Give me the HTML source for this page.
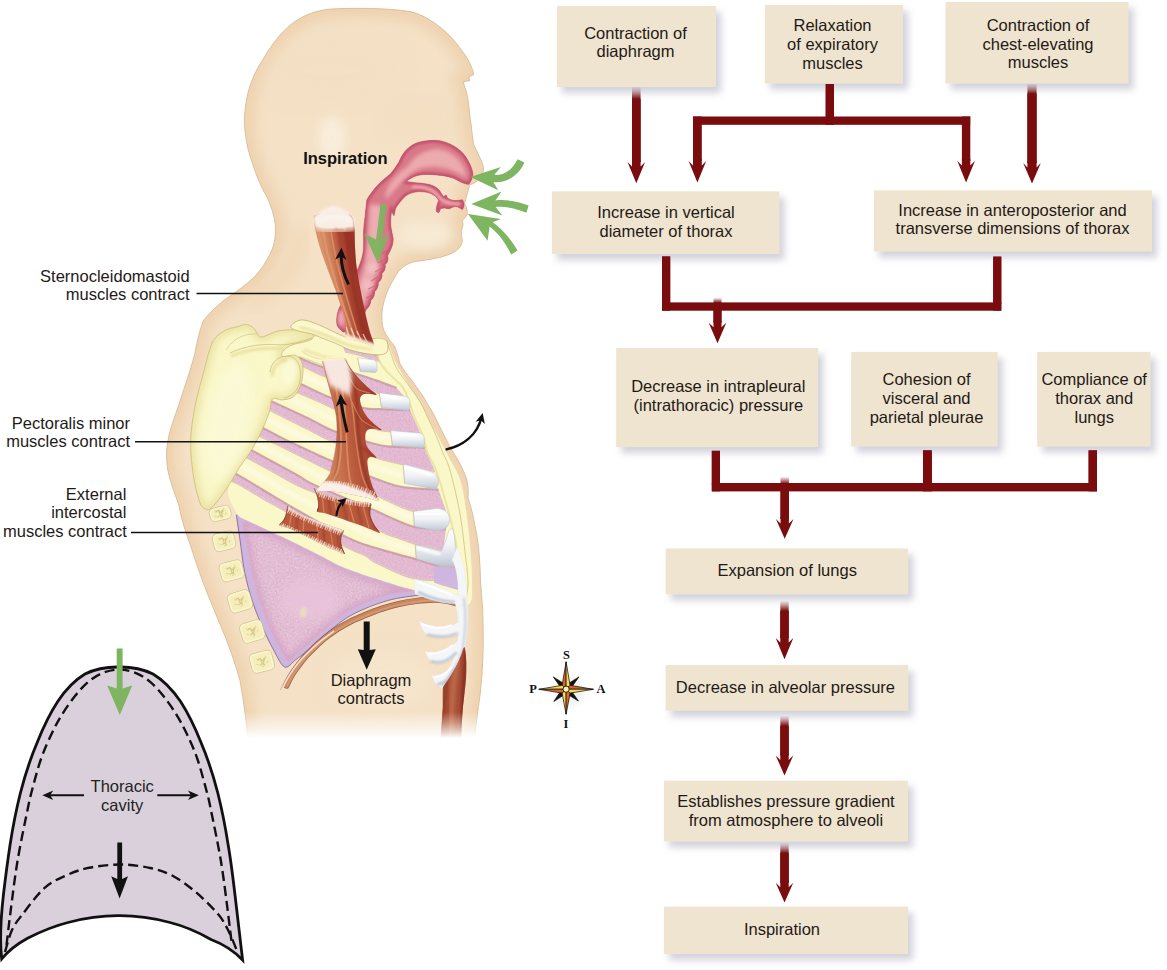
<!DOCTYPE html>
<html><head><meta charset="utf-8"><title>Inspiration</title>
<style>
html,body{margin:0;padding:0;background:#fff;}
body{width:1167px;height:970px;overflow:hidden;font-family:"Liberation Sans",sans-serif;}
svg{display:block;}
text{font-family:"Liberation Sans",sans-serif;}
.ft text{font-size:16.5px;fill:#1f1a17;text-anchor:middle;}
.serif text{font-family:"Liberation Serif",serif;}
</style></head><body>
<svg width="1167" height="970" viewBox="0 0 1167 970">
<defs>
<filter id="sh" x="-10%" y="-20%" width="125%" height="150%">
<feGaussianBlur in="SourceAlpha" stdDeviation="3.6"/>
<feOffset dx="4.5" dy="5.5" result="b"/>
<feFlood flood-color="#9c9cb2" flood-opacity="0.46"/>
<feComposite in2="b" operator="in"/>
<feMerge><feMergeNode/><feMergeNode in="SourceGraphic"/></feMerge>
</filter>
</defs>
<!-- ILLUSTRATION -->
<defs>
<path id="bodyP" d="M328,9.3 C352,7.6 388,8 410,11.6 C427,15 446,30 456.8,43.8 C464,53 471,62 473.8,74.5 L468.6,77.2 L470,80.5 L463,81.8 C466,90 468,97 468.4,103 C469.5,112 470,118 471,123.7 C472,132 472.6,138 473.5,144 C476.6,152 482,160 483.6,167.6 C483.8,172.4 481,177.4 477.8,180.4 C475,183 472,184.2 469.7,184.6 C468.4,190 466,198 464.6,203.6 C466.4,207 467.8,211 467.2,214.4 C466.4,217 463.4,219 462.2,221 C463.2,223 463.2,225 462.5,226.8 C461,230.5 461.2,235 462.3,240.5 C462,247 457,251.5 447.7,255 C437,259 425,260 415,261.6 C406,263.6 400.4,268 396.4,274.7 C390.4,284 385.6,294 383.6,303 C381.2,313 381.4,322 383.6,330 C387,337 391,342 394.7,346.5 C397,352 398.5,358 399.7,363 C403,369 407,374.5 411.2,379.5 C415,385 419,390.5 422.8,396 C426,401.5 429.5,407 432.7,412.5 C435.5,418 438.2,423.5 440.9,429 C443.6,434.5 446.4,440 449.2,445.5 C452.4,451 455.8,456.5 459.1,462 C462,468 464.6,473 466.5,478.5 C468,485 468.6,491 468,497.9 C471,507 473.4,516 475,525.7 C477,535 478.4,544 479.1,553.6 C480,563 480.3,572 480.5,581.4 C481.2,591 482,600 482.6,609.3 C483,618.6 483.2,628 483.2,637.1 C483.3,644.5 483.2,652 482.8,659.4 C482.4,670.5 481.5,681.6 480.3,692.8 C479.2,702 477.8,711 476.6,720.7 C475.8,727 475.2,734 474.6,742 L248,742 C247.6,735 246.5,725 245.4,715.8 C244,704 242,692 240,680.7 C236,666 231,652 226,638.6 C220,624 214,610 208.6,596.5 C202,580 196,563 191,547 C186,533 181,519 178.8,505 C175,494 171,484 168.6,474 C166.8,466 166.2,458 166.7,450 C167.4,440 170,430 173.4,420.5 C177,410 181,399 184.1,388.4 C188,377 192,365 194.8,353.6 C197,342 199.5,331 202.9,321.4 C209,313 217,306 224.3,300 C236,292 246,285 254,277.3 C262,269 269,258 273.4,246 C275.6,238 276,230 275,222 C273.5,213 270.5,205 267,197 C261,187 256.5,176 253,165 C249,154 246.5,144 245.4,134 C244,124 244.2,116 245.2,110 C246.5,92 253,74 262.7,60 C269,49 277,37 287.5,27.4 C298,18 311,11.4 328,9.3 Z"/>
<clipPath id="bodyClip"><use href="#bodyP"/></clipPath>
<linearGradient id="fadeG" gradientUnits="userSpaceOnUse" x1="0" y1="712" x2="0" y2="738"><stop offset="0" stop-color="#fff"/><stop offset="1" stop-color="#000"/></linearGradient>
<mask id="fadeM" maskUnits="userSpaceOnUse" x="0" y="0" width="560" height="760"><rect x="0" y="0" width="560" height="760" fill="url(#fadeG)"/></mask>
<filter id="b2" x="-20%" y="-20%" width="140%" height="140%"><feGaussianBlur stdDeviation="2"/></filter>
<filter id="b1" x="-20%" y="-20%" width="140%" height="140%"><feGaussianBlur stdDeviation="1"/></filter>
<filter id="b07" x="-20%" y="-20%" width="140%" height="140%"><feGaussianBlur stdDeviation="0.7"/></filter>
<filter id="b05" x="-20%" y="-20%" width="140%" height="140%"><feGaussianBlur stdDeviation="0.5"/></filter>
<filter id="b3" x="-20%" y="-20%" width="140%" height="140%"><feGaussianBlur stdDeviation="3.5"/></filter>
<filter id="b6" x="-20%" y="-20%" width="140%" height="140%"><feGaussianBlur stdDeviation="6"/></filter>
<filter id="b10" x="-30%" y="-30%" width="160%" height="160%"><feGaussianBlur stdDeviation="10"/></filter>
</defs>
<g id="body" mask="url(#fadeM)">
<!-- SKIN -->
<use href="#bodyP" fill="#f4e1c6"/>
<g clip-path="url(#bodyClip)">
  <use href="#bodyP" fill="none" stroke="#efd3b0" stroke-width="20" filter="url(#b6)"/>
  <!-- subtle facial modelling -->
  <ellipse cx="332" cy="138" rx="14" ry="22" fill="#f9efde" filter="url(#b6)" opacity="0.9"/>
  <ellipse cx="420" cy="118" rx="30" ry="16" fill="#f2dcbc" filter="url(#b10)" opacity="0.55"/>
  <ellipse cx="330" cy="70" rx="70" ry="30" fill="#f3dfc2" filter="url(#b10)" opacity="0.5"/>
  <ellipse cx="425" cy="235" rx="28" ry="14" fill="#f8ecd8" filter="url(#b6)" opacity="0.8"/>
  <path d="M300,230 C300,260 285,285 250,300" fill="none" stroke="#f0d7b5" stroke-width="16" filter="url(#b6)" opacity="0.7"/>
  <ellipse cx="380" cy="680" rx="50" ry="30" fill="#f7e8d0" filter="url(#b10)" opacity="0.6"/>
</g>
<use href="#bodyP" fill="none" stroke="#d9bd9a" stroke-width="0.9"/>
</g>

<g id="airway" mask="url(#fadeM)">
<defs>
<path id="airP" d="M398.8,162.3 C401,157 404,152 407,149.3 C411,145.5 415,143 420,142 C425,140.8 431,140.2 436.3,140.4 C441,140.6 446,142 450.9,144.4 C455,146.5 459,149 462.3,152.6 C466,156.5 468.5,161 470.5,165.6 C472,169 472.8,172 472.9,175.4 C472,179 470.5,182 468.9,184.3 C466.5,184.2 464.5,183.5 462.3,182.7 C459.5,181.5 457,180 454.2,178.6 C450,176.8 446,176 441.2,175.4 C435,174.6 429,174.3 423.3,174.5 C419,174.8 415,176 411.9,177.8 C409.8,178.9 408,180 406.2,181.5 C409,182 412,182.3 415.1,182.7 C419.5,183 424,183.5 428.2,184.3 C431,185 434,186 436.3,187.6 C438.5,189.2 440,191 441.2,193.3 L443.6,196.6 L446,194.9 C446.5,196 447,197 447.7,198.2 C450,199.6 452,200.3 454.2,200.6 C457,200.7 460,200.2 462.3,199.8 C463.5,201 464,203 464,204.7 C464,206.5 463.4,208.2 462.3,209.5 C460,208 458,206.8 455.8,206.3 C453.5,206.6 451.5,207.8 449.3,208.7 C447.5,208.8 446,208.3 444.4,207.9 C443,208 441.8,208.3 440.4,208.7 C440,210 439.6,211.5 438.7,212.8 C437.8,212.6 437,212 436.3,211.2 C436.2,209 436.6,207 437.1,204.7 C437.6,203.2 438.2,202 438.7,200.6 C437.8,198.7 436.5,197 434.7,195.7 C432.6,194.3 430.5,193.2 428.2,192.5 C425,191.8 421.5,191.5 418.4,191.6 C414.5,192 410.5,193 407,194.9 C404.5,196.6 402.3,198.8 400.5,201.4 C398.5,204 396.8,206 395.6,208.2 L394,215.7 L391.5,211.5 C390.8,216 390.5,220 390.7,224.7 C391,229 392.2,233.5 393.1,237.9 C393.3,241.5 392.6,244.8 391.5,247.8 C390.3,250.6 388.8,253.3 387.4,256 C388.8,258.8 387.8,262.4 385,264.6 C386,267.8 384.4,271.6 381.8,273.6 C382.6,276.8 380.8,280.8 378.2,282.6 C378.8,285.8 377,289.8 374.6,291.6 C375,294.8 373.2,298.6 370.8,300.4 C370.8,303.6 369,307.2 366.6,309 L365.1,312 L362,320 L350,330 L347.8,330.2 C346,332 344,332.3 342.9,331.9 C340,329.5 338,327.5 337.1,325.3 C336.5,322 336.6,318.5 337.1,315.4 C337.6,312.5 338.5,309.6 339.6,307.1 L345,300 L356.9,270.9 C358.5,267.5 360,264.3 361,261 C362.3,257 363.1,253.2 363.5,249.4 C363.8,244 363.7,238.5 363.5,233 C363.7,227.5 364.3,222 365.1,216.5 C365.6,211 366.2,205.5 366.8,200 C368,197.5 369.5,195.2 371.2,193.3 C373.5,189.7 376.3,186.4 379.3,183.5 C383,180 386.8,176.8 390.7,173.7 C393.6,170 396.4,166.2 398.8,162.3 Z"/>
<clipPath id="airClip"><use href="#airP"/></clipPath>
</defs>
<use href="#airP" fill="#d87888"/>
<g clip-path="url(#airClip)">
  <use href="#airP" fill="none" stroke="#c8536d" stroke-width="5" filter="url(#b1)"/>
  <!-- lighter interior of nasal cavity -->
  <path d="M408,166 C414,156 424,150 437,149 C449,150 458,156 464,168 C466,172 467,176 466,178 C458,172 448,168 436,167 C424,166 414,170 408,176 C400,184 392,192 386,200 C383,190 394,176 408,166 Z" fill="#eeb0b2" filter="url(#b2)" opacity="0.9"/>
  <path d="M376,205 C376,225 374,245 372,262 C370,275 364,290 356,305" fill="none" stroke="#f0b4b8" stroke-width="13" filter="url(#b2)" opacity="0.9"/>
  <path d="M412,187 C422,186 432,189 438,196 C442,202 452,204 460,204" fill="none" stroke="#eba5ab" stroke-width="3.5" filter="url(#b1)" opacity="0.9"/>
  <ellipse cx="373" cy="268" rx="6" ry="5" fill="#f3c3c6" filter="url(#b2)" opacity="0.8"/><ellipse cx="368" cy="285" rx="5" ry="5" fill="#f3c3c6" filter="url(#b2)" opacity="0.8"/><ellipse cx="341" cy="318" rx="3.4" ry="8" fill="#f0b6bd" filter="url(#b2)" opacity="0.85"/>
  <!-- tracheal ring bumps -->
  <path d="M388,250 l-7,4 M385,259 l-7,4 M382,268 l-7,4 M378,277 l-7,4 M375,286 l-7,3 M372,295 l-6,3" stroke="#c8536d" stroke-width="1.2" opacity="0.6" fill="none"/>
</g>
<use href="#airP" fill="none" stroke="#c0506a" stroke-width="0.7" opacity="0.8"/>
<!-- green arrow in pharynx -->
<path d="M380.8,203.3 L386.6,204.2 L382.2,240 L389.4,232 L377.8,263.6 L364.3,233.6 L376,239.4 Z" fill="#7cb45f" opacity="0.95"/>
</g>
<!-- green arrows at the nose (outside body) -->
<g id="greenArrows" fill="#7db560">
<path d="M517.6,159.2 L524.4,162.6 C519,175 507,183.6 493.4,182 L498.2,190.2 L470.5,177 L500.8,167 L494.4,174.8 C504,176 512.6,169.6 517.6,159.2 Z"/>
<path d="M528.6,205.6 L526.4,212.8 C515,208 505.6,206.2 495.6,207 L502.4,215.6 L471.3,203.9 L501.6,191.4 L495.4,200.4 C506.6,199.4 517.4,201 528.6,205.6 Z"/>
<path d="M517.6,250.6 L511.2,254.6 C505.4,242.6 498.4,233.4 489.6,226.6 L487.6,240.8 L468,214.1 L500.8,219.1 L492.8,222.2 C502.6,229.6 511,239 517.6,250.6 Z"/>
</g>

<g id="thorax" mask="url(#fadeM)">
<defs>
<filter id="mott" x="0" y="0" width="100%" height="100%"><feTurbulence type="fractalNoise" baseFrequency="0.55" numOctaves="2" seed="7" result="n"/><feColorMatrix in="n" type="matrix" values="0 0 0 0 1  0 0 0 0 1  0 0 0 0 1  0.9 0.9 0 0 -0.62" result="w"/><feComposite in="w" in2="SourceGraphic" operator="in"/></filter>
</defs>
<path id="cageP" d="M344.0,343.0 C352.7,341.7 365.0,338.5 372.0,338.0 C379.0,337.5 382.0,335.8 386.0,340.0 C390.0,344.2 392.1,355.3 396.0,363.0 C399.9,370.7 404.8,378.3 409.2,386.0 C413.6,393.7 418.0,401.3 422.4,409.0 C426.8,416.7 431.2,424.2 435.6,432.2 C440.0,440.2 444.7,448.9 448.8,456.9 C452.9,464.9 457.4,471.1 460.3,480.0 C463.2,488.9 464.4,499.2 466.0,510.0 C467.6,520.8 469.0,533.3 470.0,545.0 C471.0,556.7 472.0,570.3 472.0,580.0 C472.0,589.7 472.8,599.3 470.0,603.0 C467.2,606.7 464.4,603.8 455.0,602.0 C445.6,600.2 426.0,595.5 413.5,592.2 C401.0,588.9 391.4,585.7 380.0,582.0 C368.6,578.3 355.0,574.1 345.0,570.0 C335.0,565.9 328.6,561.8 320.0,557.5 C311.4,553.2 303.3,549.0 293.6,544.3 C283.9,539.6 270.6,533.5 262.0,529.5 C253.4,525.5 246.3,523.2 242.0,520.3 C237.7,517.4 238.3,517.0 236.0,512.0 C233.7,506.9 227.3,498.7 228.0,490.0 C228.7,481.3 235.3,470.0 240.0,460.0 C244.7,450.0 251.0,439.3 256.0,430.0 C261.0,420.7 263.3,416.3 270.0,404.0 C276.7,391.7 287.7,365.7 296.0,356.0 C304.3,346.3 312.0,348.2 320.0,346.0 C328.0,343.8 335.3,344.3 344.0,343.0 Z" fill="#faf7c8"/>
<clipPath id="cageClip"><path d="M344.0,343.0 C352.7,341.7 365.0,338.5 372.0,338.0 C379.0,337.5 382.0,335.8 386.0,340.0 C390.0,344.2 392.1,355.3 396.0,363.0 C399.9,370.7 404.8,378.3 409.2,386.0 C413.6,393.7 418.0,401.3 422.4,409.0 C426.8,416.7 431.2,424.2 435.6,432.2 C440.0,440.2 444.7,448.9 448.8,456.9 C452.9,464.9 457.4,471.1 460.3,480.0 C463.2,488.9 464.4,499.2 466.0,510.0 C467.6,520.8 469.0,533.3 470.0,545.0 C471.0,556.7 472.0,570.3 472.0,580.0 C472.0,589.7 472.8,599.3 470.0,603.0 C467.2,606.7 464.4,603.8 455.0,602.0 C445.6,600.2 426.0,595.5 413.5,592.2 C401.0,588.9 391.4,585.7 380.0,582.0 C368.6,578.3 355.0,574.1 345.0,570.0 C335.0,565.9 328.6,561.8 320.0,557.5 C311.4,553.2 303.3,549.0 293.6,544.3 C283.9,539.6 270.6,533.5 262.0,529.5 C253.4,525.5 246.3,523.2 242.0,520.3 C237.7,517.4 238.3,517.0 236.0,512.0 C233.7,506.9 227.3,498.7 228.0,490.0 C228.7,481.3 235.3,470.0 240.0,460.0 C244.7,450.0 251.0,439.3 256.0,430.0 C261.0,420.7 263.3,416.3 270.0,404.0 C276.7,391.7 287.7,365.7 296.0,356.0 C304.3,346.3 312.0,348.2 320.0,346.0 C328.0,343.8 335.3,344.3 344.0,343.0 Z"/></clipPath>
<path d="M342.0,345.7 C344.7,346.2 352.7,347.7 358.0,349.0 C363.3,350.3 369.5,352.3 373.8,353.6 C378.1,354.9 382.3,356.4 384.0,357.0 L386.0,364.0 C383.6,363.2 376.2,360.5 371.5,359.0 C366.8,357.5 362.5,356.2 358.0,355.0 C353.5,353.8 346.6,352.3 344.3,351.8 Z" fill="#e0b2cd" clip-path="url(#cageClip)"/>
<path d="M296.0,356.0 C297.1,356.6 297.4,357.2 302.4,359.3 C307.4,361.4 318.4,366.3 326.2,368.4 C333.9,370.5 340.6,369.8 348.9,371.8 C357.2,373.8 368.1,377.7 376.0,380.4 C383.9,383.1 393.1,386.7 396.5,388.0 L406.0,398.5 C401.4,397.6 387.0,395.5 378.4,393.3 C369.8,391.1 363.6,388.2 354.5,385.4 C345.4,382.6 333.1,379.7 324.0,376.3 C314.9,372.9 305.0,367.4 300.0,365.0 C295.0,362.6 295.0,362.5 294.0,362.0 Z" fill="#e0b2cd" clip-path="url(#cageClip)"/>
<path d="M280.0,375.0 C283.5,376.5 292.8,380.4 301.2,384.2 C309.6,388.0 320.3,393.8 330.7,397.8 C341.1,401.8 355.3,406.1 363.6,408.0 C371.9,409.9 372.9,408.8 380.6,409.2 C388.4,409.6 405.2,410.1 410.1,410.3 L421.4,435.3 C416.3,434.7 399.5,433.2 390.8,431.9 C382.1,430.6 379.5,431.5 369.3,427.3 C359.1,423.1 341.3,412.6 329.6,406.9 C317.9,401.2 307.6,397.1 299.0,393.3 C290.4,389.5 281.5,385.6 278.0,384.0 Z" fill="#e0b2cd" clip-path="url(#cageClip)"/>
<path d="M262.0,397.0 C264.0,397.9 266.3,398.9 274.0,402.4 C281.7,405.9 298.2,413.5 308.0,418.2 C317.8,422.9 321.7,426.3 333.0,430.7 C344.3,435.1 366.2,441.6 376.0,444.3 C385.8,447.0 383.9,446.0 392.0,446.6 C400.1,447.2 419.3,447.5 424.8,447.7 L435.0,471.5 C429.7,470.4 413.1,466.9 403.3,464.7 C393.5,462.4 387.7,461.8 376.0,458.0 C364.3,454.2 344.3,446.7 333.0,442.0 C321.7,437.3 318.6,434.9 308.0,429.6 C297.4,424.3 277.8,414.4 269.5,410.3 C261.2,406.2 259.9,405.9 258.0,405.0 Z" fill="#e0b2cd" clip-path="url(#cageClip)"/>
<path d="M248.0,421.0 C249.9,421.9 253.1,423.1 259.3,426.2 C265.5,429.3 276.1,435.3 285.4,439.8 C294.6,444.3 306.5,449.6 314.8,453.4 C323.1,457.2 324.3,458.0 335.3,462.5 C346.3,467.0 369.1,476.5 380.6,480.6 C392.1,484.8 394.8,485.9 404.4,487.4 C414.0,488.9 432.8,489.3 438.5,489.7 L446.0,511.0 C444.3,510.6 441.1,508.8 435.7,508.8 C430.3,508.8 421.8,512.7 413.4,511.2 C405.0,509.7 398.6,506.2 385.2,499.8 C371.8,493.4 344.7,478.7 333.0,472.7 C321.3,466.7 322.7,467.6 314.8,463.6 C306.9,459.6 295.0,453.6 285.4,448.9 C275.8,444.2 263.7,438.4 257.0,435.3 C250.3,432.2 247.0,430.9 245.0,430.0 Z" fill="#e0b2cd" clip-path="url(#cageClip)"/>
<path d="M238.0,443.0 C239.8,444.0 243.1,445.6 249.1,448.9 C255.1,452.1 265.7,458.0 274.0,462.5 C282.3,467.0 292.2,472.3 299.0,476.1 C305.8,479.9 302.3,479.5 314.8,485.2 C327.3,490.9 360.6,504.4 373.8,510.1 C387.0,515.8 387.4,516.4 394.2,519.2 C400.9,522.0 405.7,525.1 414.3,526.8 C422.9,528.5 440.7,528.8 446.0,529.2 L443.0,550.8 C438.4,549.7 422.7,546.3 415.3,544.2 C407.9,542.1 405.0,540.7 398.8,538.4 C392.6,536.1 389.9,536.6 378.4,530.2 C366.9,523.8 343.6,507.5 330.0,500.0 C316.4,492.5 306.0,489.8 296.7,485.2 C287.4,480.6 282.3,477.2 274.0,472.7 C265.7,468.1 253.5,461.3 246.8,457.9 C240.1,454.4 236.1,453.0 234.0,452.0 Z" fill="#e0b2cd" clip-path="url(#cageClip)"/>
<path d="M228.0,470.0 C230.0,471.0 234.2,472.8 240.0,476.1 C245.8,479.4 255.1,485.2 262.7,489.7 C270.3,494.2 272.2,495.7 285.4,503.3 C298.6,510.9 328.4,528.1 342.0,535.1 C355.6,542.1 357.5,542.1 367.0,545.4 C376.5,548.6 390.6,552.3 398.8,554.6 C407.0,556.9 409.1,557.2 416.2,559.2 C423.3,561.2 434.7,565.2 441.2,566.6 C447.7,568.0 452.7,567.3 455.0,567.4 L456.0,580.0 C449.1,579.8 428.0,581.7 414.7,578.9 C401.4,576.1 384.4,566.9 376.1,563.0 C367.8,559.1 370.8,558.6 364.7,555.5 C358.6,552.4 353.4,551.7 339.8,544.1 C326.2,536.5 296.0,517.6 283.1,510.1 C270.2,502.6 269.9,503.0 262.7,498.8 C255.5,494.6 246.1,488.5 240.0,485.2 C233.9,481.9 228.3,480.0 226.0,479.0 Z" fill="#e0b2cd" clip-path="url(#cageClip)"/>
<path d="M342.0,345.7 C344.7,346.2 352.7,347.7 358.0,349.0 C363.3,350.3 369.5,352.3 373.8,353.6 C378.1,354.9 382.3,356.4 384.0,357.0" fill="none" stroke="#c486ae" stroke-width="2.2" opacity="0.7" filter="url(#b05)" clip-path="url(#cageClip)"/>
<path d="M344.3,351.8 C346.6,352.3 353.5,353.8 358.0,355.0 C362.5,356.2 366.8,357.5 371.5,359.0 C376.2,360.5 383.6,363.2 386.0,364.0" fill="none" stroke="#efd0e2" stroke-width="1.6" opacity="0.7" filter="url(#b05)" clip-path="url(#cageClip)"/>
<path d="M296.0,356.0 C297.1,356.6 297.4,357.2 302.4,359.3 C307.4,361.4 318.4,366.3 326.2,368.4 C333.9,370.5 340.6,369.8 348.9,371.8 C357.2,373.8 368.1,377.7 376.0,380.4 C383.9,383.1 393.1,386.7 396.5,388.0" fill="none" stroke="#c486ae" stroke-width="2.2" opacity="0.7" filter="url(#b05)" clip-path="url(#cageClip)"/>
<path d="M294.0,362.0 C295.0,362.5 295.0,362.6 300.0,365.0 C305.0,367.4 314.9,372.9 324.0,376.3 C333.1,379.7 345.4,382.6 354.5,385.4 C363.6,388.2 369.8,391.1 378.4,393.3 C387.0,395.5 401.4,397.6 406.0,398.5" fill="none" stroke="#efd0e2" stroke-width="1.6" opacity="0.7" filter="url(#b05)" clip-path="url(#cageClip)"/>
<path d="M280.0,375.0 C283.5,376.5 292.8,380.4 301.2,384.2 C309.6,388.0 320.3,393.8 330.7,397.8 C341.1,401.8 355.3,406.1 363.6,408.0 C371.9,409.9 372.9,408.8 380.6,409.2 C388.4,409.6 405.2,410.1 410.1,410.3" fill="none" stroke="#c486ae" stroke-width="2.2" opacity="0.7" filter="url(#b05)" clip-path="url(#cageClip)"/>
<path d="M278.0,384.0 C281.5,385.6 290.4,389.5 299.0,393.3 C307.6,397.1 317.9,401.2 329.6,406.9 C341.3,412.6 359.1,423.1 369.3,427.3 C379.5,431.5 382.1,430.6 390.8,431.9 C399.5,433.2 416.3,434.7 421.4,435.3" fill="none" stroke="#efd0e2" stroke-width="1.6" opacity="0.7" filter="url(#b05)" clip-path="url(#cageClip)"/>
<path d="M262.0,397.0 C264.0,397.9 266.3,398.9 274.0,402.4 C281.7,405.9 298.2,413.5 308.0,418.2 C317.8,422.9 321.7,426.3 333.0,430.7 C344.3,435.1 366.2,441.6 376.0,444.3 C385.8,447.0 383.9,446.0 392.0,446.6 C400.1,447.2 419.3,447.5 424.8,447.7" fill="none" stroke="#c486ae" stroke-width="2.2" opacity="0.7" filter="url(#b05)" clip-path="url(#cageClip)"/>
<path d="M258.0,405.0 C259.9,405.9 261.2,406.2 269.5,410.3 C277.8,414.4 297.4,424.3 308.0,429.6 C318.6,434.9 321.7,437.3 333.0,442.0 C344.3,446.7 364.3,454.2 376.0,458.0 C387.7,461.8 393.5,462.4 403.3,464.7 C413.1,466.9 429.7,470.4 435.0,471.5" fill="none" stroke="#efd0e2" stroke-width="1.6" opacity="0.7" filter="url(#b05)" clip-path="url(#cageClip)"/>
<path d="M248.0,421.0 C249.9,421.9 253.1,423.1 259.3,426.2 C265.5,429.3 276.1,435.3 285.4,439.8 C294.6,444.3 306.5,449.6 314.8,453.4 C323.1,457.2 324.3,458.0 335.3,462.5 C346.3,467.0 369.1,476.5 380.6,480.6 C392.1,484.8 394.8,485.9 404.4,487.4 C414.0,488.9 432.8,489.3 438.5,489.7" fill="none" stroke="#c486ae" stroke-width="2.2" opacity="0.7" filter="url(#b05)" clip-path="url(#cageClip)"/>
<path d="M245.0,430.0 C247.0,430.9 250.3,432.2 257.0,435.3 C263.7,438.4 275.8,444.2 285.4,448.9 C295.0,453.6 306.9,459.6 314.8,463.6 C322.7,467.6 321.3,466.7 333.0,472.7 C344.7,478.7 371.8,493.4 385.2,499.8 C398.6,506.2 405.0,509.7 413.4,511.2 C421.8,512.7 430.3,508.8 435.7,508.8 C441.1,508.8 444.3,510.6 446.0,511.0" fill="none" stroke="#efd0e2" stroke-width="1.6" opacity="0.7" filter="url(#b05)" clip-path="url(#cageClip)"/>
<path d="M238.0,443.0 C239.8,444.0 243.1,445.6 249.1,448.9 C255.1,452.1 265.7,458.0 274.0,462.5 C282.3,467.0 292.2,472.3 299.0,476.1 C305.8,479.9 302.3,479.5 314.8,485.2 C327.3,490.9 360.6,504.4 373.8,510.1 C387.0,515.8 387.4,516.4 394.2,519.2 C400.9,522.0 405.7,525.1 414.3,526.8 C422.9,528.5 440.7,528.8 446.0,529.2" fill="none" stroke="#c486ae" stroke-width="2.2" opacity="0.7" filter="url(#b05)" clip-path="url(#cageClip)"/>
<path d="M234.0,452.0 C236.1,453.0 240.1,454.4 246.8,457.9 C253.5,461.3 265.7,468.1 274.0,472.7 C282.3,477.2 287.4,480.6 296.7,485.2 C306.0,489.8 316.4,492.5 330.0,500.0 C343.6,507.5 366.9,523.8 378.4,530.2 C389.9,536.6 392.6,536.1 398.8,538.4 C405.0,540.7 407.9,542.1 415.3,544.2 C422.7,546.3 438.4,549.7 443.0,550.8" fill="none" stroke="#efd0e2" stroke-width="1.6" opacity="0.7" filter="url(#b05)" clip-path="url(#cageClip)"/>
<path d="M228.0,470.0 C230.0,471.0 234.2,472.8 240.0,476.1 C245.8,479.4 255.1,485.2 262.7,489.7 C270.3,494.2 272.2,495.7 285.4,503.3 C298.6,510.9 328.4,528.1 342.0,535.1 C355.6,542.1 357.5,542.1 367.0,545.4 C376.5,548.6 390.6,552.3 398.8,554.6 C407.0,556.9 409.1,557.2 416.2,559.2 C423.3,561.2 434.7,565.2 441.2,566.6 C447.7,568.0 452.7,567.3 455.0,567.4" fill="none" stroke="#c486ae" stroke-width="2.2" opacity="0.7" filter="url(#b05)" clip-path="url(#cageClip)"/>
<path d="M226.0,479.0 C228.3,480.0 233.9,481.9 240.0,485.2 C246.1,488.5 255.5,494.6 262.7,498.8 C269.9,503.0 270.2,502.6 283.1,510.1 C296.0,517.6 326.2,536.5 339.8,544.1 C353.4,551.7 358.6,552.4 364.7,555.5 C370.8,558.6 367.8,559.1 376.1,563.0 C384.4,566.9 401.4,576.1 414.7,578.9 C428.0,581.7 449.1,579.8 456.0,580.0" fill="none" stroke="#efd0e2" stroke-width="1.6" opacity="0.7" filter="url(#b05)" clip-path="url(#cageClip)"/>
<path d="M342.0,345.7 C344.7,346.2 352.7,347.7 358.0,349.0 C363.3,350.3 369.5,352.3 373.8,353.6 C378.1,354.9 382.3,356.4 384.0,357.0" fill="none" stroke="#b9ab62" stroke-width="0.6" opacity="0.7" clip-path="url(#cageClip)"/>
<path d="M344.3,351.8 C346.6,352.3 353.5,353.8 358.0,355.0 C362.5,356.2 366.8,357.5 371.5,359.0 C376.2,360.5 383.6,363.2 386.0,364.0" fill="none" stroke="#b9ab62" stroke-width="0.6" opacity="0.7" clip-path="url(#cageClip)"/>
<path d="M296.0,356.0 C297.1,356.6 297.4,357.2 302.4,359.3 C307.4,361.4 318.4,366.3 326.2,368.4 C333.9,370.5 340.6,369.8 348.9,371.8 C357.2,373.8 368.1,377.7 376.0,380.4 C383.9,383.1 393.1,386.7 396.5,388.0" fill="none" stroke="#b9ab62" stroke-width="0.6" opacity="0.7" clip-path="url(#cageClip)"/>
<path d="M294.0,362.0 C295.0,362.5 295.0,362.6 300.0,365.0 C305.0,367.4 314.9,372.9 324.0,376.3 C333.1,379.7 345.4,382.6 354.5,385.4 C363.6,388.2 369.8,391.1 378.4,393.3 C387.0,395.5 401.4,397.6 406.0,398.5" fill="none" stroke="#b9ab62" stroke-width="0.6" opacity="0.7" clip-path="url(#cageClip)"/>
<path d="M280.0,375.0 C283.5,376.5 292.8,380.4 301.2,384.2 C309.6,388.0 320.3,393.8 330.7,397.8 C341.1,401.8 355.3,406.1 363.6,408.0 C371.9,409.9 372.9,408.8 380.6,409.2 C388.4,409.6 405.2,410.1 410.1,410.3" fill="none" stroke="#b9ab62" stroke-width="0.6" opacity="0.7" clip-path="url(#cageClip)"/>
<path d="M278.0,384.0 C281.5,385.6 290.4,389.5 299.0,393.3 C307.6,397.1 317.9,401.2 329.6,406.9 C341.3,412.6 359.1,423.1 369.3,427.3 C379.5,431.5 382.1,430.6 390.8,431.9 C399.5,433.2 416.3,434.7 421.4,435.3" fill="none" stroke="#b9ab62" stroke-width="0.6" opacity="0.7" clip-path="url(#cageClip)"/>
<path d="M262.0,397.0 C264.0,397.9 266.3,398.9 274.0,402.4 C281.7,405.9 298.2,413.5 308.0,418.2 C317.8,422.9 321.7,426.3 333.0,430.7 C344.3,435.1 366.2,441.6 376.0,444.3 C385.8,447.0 383.9,446.0 392.0,446.6 C400.1,447.2 419.3,447.5 424.8,447.7" fill="none" stroke="#b9ab62" stroke-width="0.6" opacity="0.7" clip-path="url(#cageClip)"/>
<path d="M258.0,405.0 C259.9,405.9 261.2,406.2 269.5,410.3 C277.8,414.4 297.4,424.3 308.0,429.6 C318.6,434.9 321.7,437.3 333.0,442.0 C344.3,446.7 364.3,454.2 376.0,458.0 C387.7,461.8 393.5,462.4 403.3,464.7 C413.1,466.9 429.7,470.4 435.0,471.5" fill="none" stroke="#b9ab62" stroke-width="0.6" opacity="0.7" clip-path="url(#cageClip)"/>
<path d="M248.0,421.0 C249.9,421.9 253.1,423.1 259.3,426.2 C265.5,429.3 276.1,435.3 285.4,439.8 C294.6,444.3 306.5,449.6 314.8,453.4 C323.1,457.2 324.3,458.0 335.3,462.5 C346.3,467.0 369.1,476.5 380.6,480.6 C392.1,484.8 394.8,485.9 404.4,487.4 C414.0,488.9 432.8,489.3 438.5,489.7" fill="none" stroke="#b9ab62" stroke-width="0.6" opacity="0.7" clip-path="url(#cageClip)"/>
<path d="M245.0,430.0 C247.0,430.9 250.3,432.2 257.0,435.3 C263.7,438.4 275.8,444.2 285.4,448.9 C295.0,453.6 306.9,459.6 314.8,463.6 C322.7,467.6 321.3,466.7 333.0,472.7 C344.7,478.7 371.8,493.4 385.2,499.8 C398.6,506.2 405.0,509.7 413.4,511.2 C421.8,512.7 430.3,508.8 435.7,508.8 C441.1,508.8 444.3,510.6 446.0,511.0" fill="none" stroke="#b9ab62" stroke-width="0.6" opacity="0.7" clip-path="url(#cageClip)"/>
<path d="M238.0,443.0 C239.8,444.0 243.1,445.6 249.1,448.9 C255.1,452.1 265.7,458.0 274.0,462.5 C282.3,467.0 292.2,472.3 299.0,476.1 C305.8,479.9 302.3,479.5 314.8,485.2 C327.3,490.9 360.6,504.4 373.8,510.1 C387.0,515.8 387.4,516.4 394.2,519.2 C400.9,522.0 405.7,525.1 414.3,526.8 C422.9,528.5 440.7,528.8 446.0,529.2" fill="none" stroke="#b9ab62" stroke-width="0.6" opacity="0.7" clip-path="url(#cageClip)"/>
<path d="M234.0,452.0 C236.1,453.0 240.1,454.4 246.8,457.9 C253.5,461.3 265.7,468.1 274.0,472.7 C282.3,477.2 287.4,480.6 296.7,485.2 C306.0,489.8 316.4,492.5 330.0,500.0 C343.6,507.5 366.9,523.8 378.4,530.2 C389.9,536.6 392.6,536.1 398.8,538.4 C405.0,540.7 407.9,542.1 415.3,544.2 C422.7,546.3 438.4,549.7 443.0,550.8" fill="none" stroke="#b9ab62" stroke-width="0.6" opacity="0.7" clip-path="url(#cageClip)"/>
<path d="M228.0,470.0 C230.0,471.0 234.2,472.8 240.0,476.1 C245.8,479.4 255.1,485.2 262.7,489.7 C270.3,494.2 272.2,495.7 285.4,503.3 C298.6,510.9 328.4,528.1 342.0,535.1 C355.6,542.1 357.5,542.1 367.0,545.4 C376.5,548.6 390.6,552.3 398.8,554.6 C407.0,556.9 409.1,557.2 416.2,559.2 C423.3,561.2 434.7,565.2 441.2,566.6 C447.7,568.0 452.7,567.3 455.0,567.4" fill="none" stroke="#b9ab62" stroke-width="0.6" opacity="0.7" clip-path="url(#cageClip)"/>
<path d="M226.0,479.0 C228.3,480.0 233.9,481.9 240.0,485.2 C246.1,488.5 255.5,494.6 262.7,498.8 C269.9,503.0 270.2,502.6 283.1,510.1 C296.0,517.6 326.2,536.5 339.8,544.1 C353.4,551.7 358.6,552.4 364.7,555.5 C370.8,558.6 367.8,559.1 376.1,563.0 C384.4,566.9 401.4,576.1 414.7,578.9 C428.0,581.7 449.1,579.8 456.0,580.0" fill="none" stroke="#b9ab62" stroke-width="0.6" opacity="0.7" clip-path="url(#cageClip)"/>
<path d="M298.0,372.9 C300.3,374.0 307.3,377.3 312.0,379.4 C316.7,381.6 321.3,383.9 326.0,385.8 C330.7,387.6 335.3,388.9 340.0,390.4 C344.7,391.9 349.3,393.3 354.0,394.6 C358.7,396.0 363.3,397.5 368.0,398.6 C372.7,399.7 379.7,400.7 382.0,401.1" fill="none" stroke="#fefdf0" stroke-width="4.5" opacity="0.75" filter="url(#b2)" clip-path="url(#cageClip)"/>
<path d="M282.0,395.4 C284.3,396.5 291.3,399.7 296.0,401.8 C300.7,403.9 305.3,406.0 310.0,408.2 C314.7,410.4 319.3,412.6 324.0,414.8 C328.7,417.0 333.3,419.2 338.0,421.2 C342.7,423.3 347.3,425.1 352.0,427.1 C356.7,429.0 361.3,431.3 366.0,432.9 C370.7,434.5 375.3,435.7 380.0,436.7 C384.7,437.7 391.7,438.6 394.0,439.0" fill="none" stroke="#fefdf0" stroke-width="4.5" opacity="0.75" filter="url(#b2)" clip-path="url(#cageClip)"/>
<path d="M262.0,416.7 C264.3,417.9 271.3,421.4 276.0,423.7 C280.7,426.1 285.3,428.5 290.0,430.8 C294.7,433.0 299.3,435.3 304.0,437.5 C308.7,439.7 313.3,442.0 318.0,444.2 C322.7,446.4 327.3,448.8 332.0,450.8 C336.7,452.8 341.3,454.5 346.0,456.3 C350.7,458.1 355.3,459.9 360.0,461.7 C364.7,463.5 369.3,465.5 374.0,467.1 C378.7,468.7 383.3,470.0 388.0,471.3 C392.7,472.7 397.3,474.1 402.0,475.0 C406.7,476.0 413.7,476.9 416.0,477.3" fill="none" stroke="#fefdf0" stroke-width="4.5" opacity="0.75" filter="url(#b2)" clip-path="url(#cageClip)"/>
<path d="M249.0,439.8 C251.3,441.0 258.3,444.5 263.0,446.8 C267.7,449.2 272.3,451.6 277.0,454.0 C281.7,456.4 286.3,458.8 291.0,461.2 C295.7,463.7 300.3,466.2 305.0,468.6 C309.7,471.1 314.3,473.6 319.0,475.8 C323.7,478.1 328.3,480.1 333.0,482.3 C337.7,484.5 342.3,486.7 347.0,488.9 C351.7,491.1 356.3,493.3 361.0,495.5 C365.7,497.7 370.3,499.9 375.0,502.1 C379.7,504.3 384.3,506.6 389.0,508.6 C393.7,510.6 398.3,512.6 403.0,514.3 C407.7,515.9 414.7,517.7 417.0,518.4" fill="none" stroke="#fefdf0" stroke-width="4.5" opacity="0.75" filter="url(#b2)" clip-path="url(#cageClip)"/>
<path d="M238.0,464.0 C240.3,465.2 247.3,468.9 252.0,471.5 C256.7,474.1 261.3,476.8 266.0,479.5 C270.7,482.2 275.3,484.9 280.0,487.5 C284.7,490.2 289.3,492.9 294.0,495.4 C298.7,497.9 303.3,500.2 308.0,502.6 C312.7,505.0 317.3,507.2 322.0,509.7 C326.7,512.1 331.3,514.7 336.0,517.2 C340.7,519.8 345.3,522.4 350.0,524.9 C354.7,527.4 359.3,529.9 364.0,532.2 C368.7,534.5 373.3,536.9 378.0,538.8 C382.7,540.7 387.3,542.1 392.0,543.6 C396.7,545.2 401.3,546.8 406.0,548.2 C410.7,549.7 417.7,551.6 420.0,552.3" fill="none" stroke="#fefdf0" stroke-width="4.5" opacity="0.75" filter="url(#b2)" clip-path="url(#cageClip)"/>
<g clip-path="url(#cageClip)" opacity="0.35">
<path d="M342.0,345.7 C344.7,346.2 352.7,347.7 358.0,349.0 C363.3,350.3 369.5,352.3 373.8,353.6 C378.1,354.9 382.3,356.4 384.0,357.0 L386.0,364.0 C383.6,363.2 376.2,360.5 371.5,359.0 C366.8,357.5 362.5,356.2 358.0,355.0 C353.5,353.8 346.6,352.3 344.3,351.8 Z" fill="#fff" filter="url(#mott)"/>
<path d="M296.0,356.0 C297.1,356.6 297.4,357.2 302.4,359.3 C307.4,361.4 318.4,366.3 326.2,368.4 C333.9,370.5 340.6,369.8 348.9,371.8 C357.2,373.8 368.1,377.7 376.0,380.4 C383.9,383.1 393.1,386.7 396.5,388.0 L406.0,398.5 C401.4,397.6 387.0,395.5 378.4,393.3 C369.8,391.1 363.6,388.2 354.5,385.4 C345.4,382.6 333.1,379.7 324.0,376.3 C314.9,372.9 305.0,367.4 300.0,365.0 C295.0,362.6 295.0,362.5 294.0,362.0 Z" fill="#fff" filter="url(#mott)"/>
<path d="M280.0,375.0 C283.5,376.5 292.8,380.4 301.2,384.2 C309.6,388.0 320.3,393.8 330.7,397.8 C341.1,401.8 355.3,406.1 363.6,408.0 C371.9,409.9 372.9,408.8 380.6,409.2 C388.4,409.6 405.2,410.1 410.1,410.3 L421.4,435.3 C416.3,434.7 399.5,433.2 390.8,431.9 C382.1,430.6 379.5,431.5 369.3,427.3 C359.1,423.1 341.3,412.6 329.6,406.9 C317.9,401.2 307.6,397.1 299.0,393.3 C290.4,389.5 281.5,385.6 278.0,384.0 Z" fill="#fff" filter="url(#mott)"/>
<path d="M262.0,397.0 C264.0,397.9 266.3,398.9 274.0,402.4 C281.7,405.9 298.2,413.5 308.0,418.2 C317.8,422.9 321.7,426.3 333.0,430.7 C344.3,435.1 366.2,441.6 376.0,444.3 C385.8,447.0 383.9,446.0 392.0,446.6 C400.1,447.2 419.3,447.5 424.8,447.7 L435.0,471.5 C429.7,470.4 413.1,466.9 403.3,464.7 C393.5,462.4 387.7,461.8 376.0,458.0 C364.3,454.2 344.3,446.7 333.0,442.0 C321.7,437.3 318.6,434.9 308.0,429.6 C297.4,424.3 277.8,414.4 269.5,410.3 C261.2,406.2 259.9,405.9 258.0,405.0 Z" fill="#fff" filter="url(#mott)"/>
<path d="M248.0,421.0 C249.9,421.9 253.1,423.1 259.3,426.2 C265.5,429.3 276.1,435.3 285.4,439.8 C294.6,444.3 306.5,449.6 314.8,453.4 C323.1,457.2 324.3,458.0 335.3,462.5 C346.3,467.0 369.1,476.5 380.6,480.6 C392.1,484.8 394.8,485.9 404.4,487.4 C414.0,488.9 432.8,489.3 438.5,489.7 L446.0,511.0 C444.3,510.6 441.1,508.8 435.7,508.8 C430.3,508.8 421.8,512.7 413.4,511.2 C405.0,509.7 398.6,506.2 385.2,499.8 C371.8,493.4 344.7,478.7 333.0,472.7 C321.3,466.7 322.7,467.6 314.8,463.6 C306.9,459.6 295.0,453.6 285.4,448.9 C275.8,444.2 263.7,438.4 257.0,435.3 C250.3,432.2 247.0,430.9 245.0,430.0 Z" fill="#fff" filter="url(#mott)"/>
<path d="M238.0,443.0 C239.8,444.0 243.1,445.6 249.1,448.9 C255.1,452.1 265.7,458.0 274.0,462.5 C282.3,467.0 292.2,472.3 299.0,476.1 C305.8,479.9 302.3,479.5 314.8,485.2 C327.3,490.9 360.6,504.4 373.8,510.1 C387.0,515.8 387.4,516.4 394.2,519.2 C400.9,522.0 405.7,525.1 414.3,526.8 C422.9,528.5 440.7,528.8 446.0,529.2 L443.0,550.8 C438.4,549.7 422.7,546.3 415.3,544.2 C407.9,542.1 405.0,540.7 398.8,538.4 C392.6,536.1 389.9,536.6 378.4,530.2 C366.9,523.8 343.6,507.5 330.0,500.0 C316.4,492.5 306.0,489.8 296.7,485.2 C287.4,480.6 282.3,477.2 274.0,472.7 C265.7,468.1 253.5,461.3 246.8,457.9 C240.1,454.4 236.1,453.0 234.0,452.0 Z" fill="#fff" filter="url(#mott)"/>
<path d="M228.0,470.0 C230.0,471.0 234.2,472.8 240.0,476.1 C245.8,479.4 255.1,485.2 262.7,489.7 C270.3,494.2 272.2,495.7 285.4,503.3 C298.6,510.9 328.4,528.1 342.0,535.1 C355.6,542.1 357.5,542.1 367.0,545.4 C376.5,548.6 390.6,552.3 398.8,554.6 C407.0,556.9 409.1,557.2 416.2,559.2 C423.3,561.2 434.7,565.2 441.2,566.6 C447.7,568.0 452.7,567.3 455.0,567.4 L456.0,580.0 C449.1,579.8 428.0,581.7 414.7,578.9 C401.4,576.1 384.4,566.9 376.1,563.0 C367.8,559.1 370.8,558.6 364.7,555.5 C358.6,552.4 353.4,551.7 339.8,544.1 C326.2,536.5 296.0,517.6 283.1,510.1 C270.2,502.6 269.9,503.0 262.7,498.8 C255.5,494.6 246.1,488.5 240.0,485.2 C233.9,481.9 228.3,480.0 226.0,479.0 Z" fill="#fff" filter="url(#mott)"/>
</g>
<path d="M236.4,515.0 C236.1,518.6 238.6,530.5 240.0,540.0 C241.4,549.5 242.5,561.7 244.6,572.0 C246.7,582.3 249.5,592.5 252.6,602.0 C255.7,611.5 259.7,620.8 263.2,628.8 C266.7,636.8 270.0,643.6 273.6,650.0 C277.2,656.4 280.9,665.4 284.6,667.0 C288.3,668.6 292.1,662.3 296.0,659.5 C299.9,656.7 302.2,654.9 308.0,650.0 C313.8,645.1 323.1,636.0 330.7,630.0 C338.3,624.0 343.9,618.9 353.4,614.0 C362.9,609.1 376.1,603.8 387.5,600.6 C398.9,597.4 412.8,596.1 421.5,595.0 C430.2,593.9 438.6,594.5 440.0,594.0 C441.4,593.5 434.4,592.6 430.0,592.0 C425.6,591.4 421.8,592.2 413.5,590.2 C405.2,588.2 391.4,583.7 380.0,580.0 C368.6,576.3 355.0,572.1 345.0,568.0 C335.0,563.9 328.6,559.8 320.0,555.5 C311.4,551.2 303.3,547.0 293.6,542.3 C283.9,537.6 270.6,531.5 262.0,527.5 C253.4,523.5 246.3,520.4 242.0,518.3 C237.7,516.2 236.7,511.4 236.4,515.0 Z" fill="#cdb5e0"/>
<path d="M236.4,515.0 C237.0,519.2 238.6,530.5 240.0,540.0 C241.4,549.5 242.5,561.7 244.6,572.0 C246.7,582.3 249.5,592.5 252.6,602.0 C255.7,611.5 259.7,620.8 263.2,628.8 C266.7,636.8 270.0,643.6 273.6,650.0 C277.2,656.4 280.9,665.4 284.6,667.0 C288.3,668.6 292.1,662.3 296.0,659.5 C299.9,656.7 302.2,654.9 308.0,650.0 C313.8,645.1 323.1,636.0 330.7,630.0 C338.3,624.0 343.9,618.9 353.4,614.0 C362.9,609.1 376.1,603.8 387.5,600.6 C398.9,597.4 412.8,596.1 421.5,595.0 C430.2,593.9 436.9,594.2 440.0,594.0" fill="none" stroke="#6c4a78" stroke-width="0.8" opacity="0.85"/>
<path id="lungP" d="M243.0,523.0 C240.6,526.2 246.2,539.8 247.6,548.0 C249.0,556.2 249.7,563.3 251.6,572.0 C253.5,580.7 256.2,591.0 259.0,600.0 C261.8,609.0 265.4,618.3 268.6,626.0 C271.8,633.7 275.1,640.2 278.4,646.0 C281.7,651.8 284.9,659.8 288.2,661.0 C291.5,662.2 294.7,655.8 298.0,653.0 C301.3,650.2 302.7,649.2 308.1,644.5 C313.6,639.8 323.1,630.5 330.7,624.5 C338.2,618.5 343.9,613.4 353.4,608.5 C362.9,603.6 377.4,597.9 387.5,595.0 C397.6,592.1 411.9,592.3 414.0,591.0 C416.1,589.7 405.7,588.7 400.0,587.0 C394.3,585.3 389.2,584.0 380.0,581.0 C370.8,578.0 355.0,573.1 345.0,569.0 C335.0,564.9 328.6,560.8 320.0,556.5 C311.4,552.2 303.3,548.0 293.6,543.3 C283.9,538.6 270.4,531.9 262.0,528.5 C253.6,525.1 245.4,519.8 243.0,523.0 Z" fill="#deb3cd"/>
<clipPath id="lungClip"><path d="M243.0,523.0 C240.6,526.2 246.2,539.8 247.6,548.0 C249.0,556.2 249.7,563.3 251.6,572.0 C253.5,580.7 256.2,591.0 259.0,600.0 C261.8,609.0 265.4,618.3 268.6,626.0 C271.8,633.7 275.1,640.2 278.4,646.0 C281.7,651.8 284.9,659.8 288.2,661.0 C291.5,662.2 294.7,655.8 298.0,653.0 C301.3,650.2 302.7,649.2 308.1,644.5 C313.6,639.8 323.1,630.5 330.7,624.5 C338.2,618.5 343.9,613.4 353.4,608.5 C362.9,603.6 377.4,597.9 387.5,595.0 C397.6,592.1 411.9,592.3 414.0,591.0 C416.1,589.7 405.7,588.7 400.0,587.0 C394.3,585.3 389.2,584.0 380.0,581.0 C370.8,578.0 355.0,573.1 345.0,569.0 C335.0,564.9 328.6,560.8 320.0,556.5 C311.4,552.2 303.3,548.0 293.6,543.3 C283.9,538.6 270.4,531.9 262.0,528.5 C253.6,525.1 245.4,519.8 243.0,523.0 Z"/></clipPath>
<g clip-path="url(#lungClip)"><rect x="240" y="510" width="190" height="160" fill="#fff" filter="url(#mott)" opacity="0.5"/><path d="M243.0,523.0 C240.6,526.2 246.2,539.8 247.6,548.0 C249.0,556.2 249.7,563.3 251.6,572.0 C253.5,580.7 256.2,591.0 259.0,600.0 C261.8,609.0 265.4,618.3 268.6,626.0 C271.8,633.7 275.1,640.2 278.4,646.0 C281.7,651.8 284.9,659.8 288.2,661.0 C291.5,662.2 294.7,655.8 298.0,653.0 C301.3,650.2 302.7,649.2 308.1,644.5 C313.6,639.8 323.1,630.5 330.7,624.5 C338.2,618.5 343.9,613.4 353.4,608.5 C362.9,603.6 377.4,597.9 387.5,595.0 C397.6,592.1 411.9,592.3 414.0,591.0 C416.1,589.7 405.7,588.7 400.0,587.0 C394.3,585.3 389.2,584.0 380.0,581.0 C370.8,578.0 355.0,573.1 345.0,569.0 C335.0,564.9 328.6,560.8 320.0,556.5 C311.4,552.2 303.3,548.0 293.6,543.3 C283.9,538.6 270.4,531.9 262.0,528.5 C253.6,525.1 245.4,519.8 243.0,523.0 Z" fill="none" stroke="#cf9cc0" stroke-width="8" filter="url(#b3)" opacity="0.75"/><ellipse cx="310" cy="600" rx="30" ry="22" fill="#e9c4dc" filter="url(#b6)" opacity="0.8"/><path d="M300,610 q3,-6 6,-2 q2,6 -2,10 q-5,0 -4,-8z" fill="#efe0b6" filter="url(#b1)" opacity="0.8"/></g>
<path d="M286.4,685.6 C287.1,684.2 288.9,680.0 290.6,677.0 C292.3,674.0 294.3,671.1 296.7,667.8 C299.1,664.5 302.0,660.5 305.0,657.0 C308.0,653.5 311.5,650.3 314.9,647.0 C318.3,643.7 321.8,640.4 325.6,637.4 C329.4,634.4 333.3,631.5 337.5,628.8 C341.7,626.1 346.1,623.7 350.6,621.4 C355.2,619.1 359.7,617.3 364.8,615.2 C369.9,613.1 375.3,610.9 381.0,609.0 C386.7,607.1 393.0,605.3 398.8,604.0 C404.6,602.7 410.3,601.7 416.0,601.0 C421.7,600.3 427.8,599.7 432.8,599.6 C437.8,599.5 441.8,599.9 446.0,600.6 C450.2,601.3 456.0,603.1 458.0,603.6" fill="none" stroke="#8a4a30" stroke-width="6.2" stroke-linecap="round" opacity="0.85"/>
<path d="M286.4,685.6 C287.1,684.2 288.9,680.0 290.6,677.0 C292.3,674.0 294.3,671.1 296.7,667.8 C299.1,664.5 302.0,660.5 305.0,657.0 C308.0,653.5 311.5,650.3 314.9,647.0 C318.3,643.7 321.8,640.4 325.6,637.4 C329.4,634.4 333.3,631.5 337.5,628.8 C341.7,626.1 346.1,623.7 350.6,621.4 C355.2,619.1 359.7,617.3 364.8,615.2 C369.9,613.1 375.3,610.9 381.0,609.0 C386.7,607.1 393.0,605.3 398.8,604.0 C404.6,602.7 410.3,601.7 416.0,601.0 C421.7,600.3 427.8,599.7 432.8,599.6 C437.8,599.5 441.8,599.9 446.0,600.6 C450.2,601.3 456.0,603.1 458.0,603.6" fill="none" stroke="#c8875e" stroke-width="4.8" stroke-linecap="round"/>
<path d="M287.0,686.4 C287.7,685.0 289.5,680.8 291.2,677.8 C292.9,674.8 294.9,671.9 297.3,668.6 C299.7,665.3 302.6,661.3 305.6,657.8 C308.6,654.3 312.1,651.1 315.5,647.8 C318.9,644.5 322.4,641.2 326.2,638.2 C330.0,635.2 333.9,632.3 338.1,629.6 C342.3,626.9 346.7,624.5 351.2,622.2 C355.8,619.9 360.3,618.1 365.4,616.0 C370.5,613.9 375.9,611.7 381.6,609.8 C387.3,607.9 393.6,606.1 399.4,604.8 C405.2,603.5 410.9,602.5 416.6,601.8 C422.3,601.1 428.4,600.5 433.4,600.4 C438.4,600.3 442.4,600.7 446.6,601.4 C450.8,602.1 456.6,603.9 458.6,604.4" fill="none" stroke="#d9a07a" stroke-width="1.6" opacity="0.8" filter="url(#b05)"/>
<path d="M281.6,690.4 C282.4,688.8 284.5,684.0 286.4,680.6 C288.3,677.2 290.4,673.7 293.0,670.0 C295.6,666.3 298.8,662.2 302.0,658.6 C305.2,655.0 308.5,651.9 312.0,648.6 C315.5,645.3 319.3,641.9 323.0,639.0 C326.7,636.1 332.2,632.3 334.0,631.0" fill="none" stroke="#f6e2d8" stroke-width="1.8" opacity="0.95"/>
<path d="M280.4,690.0 C281.2,688.3 283.3,683.4 285.2,680.0 C287.1,676.6 289.2,673.1 291.8,669.4 C294.4,665.7 297.6,661.6 300.8,658.0 C304.0,654.4 307.3,651.3 310.8,648.0 C314.3,644.7 318.1,641.3 321.8,638.4 C325.5,635.5 331.1,631.7 333.0,630.4" fill="none" stroke="#b07a66" stroke-width="0.6" opacity="0.85"/>
<path d="M386.5,339.9 C387.3,342.4 389.8,350.0 391.4,354.7 C393.0,359.4 393.6,362.9 396.4,367.9 C399.1,372.8 404.0,378.9 407.9,384.4 C411.8,389.9 416.2,395.4 419.5,400.9 C422.8,406.4 424.9,411.6 427.7,417.4 C430.4,423.2 433.5,429.8 436.0,435.6 C438.5,441.4 440.3,446.4 442.6,452.1 C444.9,457.8 447.1,460.1 449.9,470.0 C452.7,479.9 457.1,497.9 459.6,511.8 C462.2,525.7 463.8,542.0 465.2,553.6 C466.6,565.2 467.8,574.3 468.0,581.4 C468.2,588.5 466.8,593.6 466.6,596.0 L458.6,597.0 C458.8,594.4 459.9,589.6 459.6,581.4 C459.3,573.2 458.8,559.6 456.9,548.0 C455.0,536.4 452.0,524.8 448.5,511.8 C445.0,498.8 439.5,479.7 436.0,470.0 C432.5,460.3 429.9,459.4 427.7,453.7 C425.5,448.0 425.0,441.7 422.8,435.6 C420.6,429.6 416.7,422.9 414.5,417.4 C412.3,411.9 411.3,407.6 409.4,402.6 C407.5,397.7 406.8,392.9 403.0,387.7 C399.2,382.5 390.3,375.5 386.5,371.2 C382.7,366.9 381.6,365.2 380.0,362.0 C378.4,358.8 377.5,353.7 377.0,352.0 Z" fill="#faf7c8"/>
<path d="M386.5,339.9 C387.3,342.4 389.8,350.0 391.4,354.7 C393.0,359.4 393.6,362.9 396.4,367.9 C399.1,372.8 404.0,378.9 407.9,384.4 C411.8,389.9 416.2,395.4 419.5,400.9 C422.8,406.4 424.9,411.6 427.7,417.4 C430.4,423.2 433.5,429.8 436.0,435.6 C438.5,441.4 440.3,446.4 442.6,452.1 C444.9,457.8 447.1,460.1 449.9,470.0 C452.7,479.9 457.1,497.9 459.6,511.8 C462.2,525.7 463.8,542.0 465.2,553.6 C466.6,565.2 467.8,574.3 468.0,581.4 C468.2,588.5 466.8,593.6 466.6,596.0" fill="none" stroke="#b9ab62" stroke-width="0.7" opacity="0.8"/>
<path d="M377.0,352.0 C377.5,353.7 378.4,358.8 380.0,362.0 C381.6,365.2 382.7,366.9 386.5,371.2 C390.3,375.5 399.2,382.5 403.0,387.7 C406.8,392.9 407.5,397.7 409.4,402.6 C411.3,407.6 412.3,411.9 414.5,417.4 C416.7,422.9 420.6,429.6 422.8,435.6 C425.0,441.7 425.5,448.0 427.7,453.7 C429.9,459.4 432.5,460.3 436.0,470.0 C439.5,479.7 445.0,498.8 448.5,511.8 C452.0,524.8 455.0,536.4 456.9,548.0 C458.8,559.6 459.3,573.2 459.6,581.4 C459.9,589.6 458.8,594.4 458.6,597.0" fill="none" stroke="#e6dd98" stroke-width="2" opacity="0.7" filter="url(#b05)"/>
<linearGradient id="cartG" x1="0" y1="0" x2="0" y2="1"><stop offset="0" stop-color="#ffffff"/><stop offset="0.45" stop-color="#f1f3f5"/><stop offset="0.8" stop-color="#d3d9e3"/><stop offset="1" stop-color="#bcc4d1"/></linearGradient>
<path d="M357.6,357.8 L372,359.6 C375.8,360.1 377.40000000000003,363 376.8,366 C377.2,370 377.4,371.6 375,372.6 L360.4,371.6 Z" fill="url(#cartG)" stroke="#b7bcc6" stroke-width="0.5" stroke-linejoin="round"/>
<path d="M359.1,360.8 L371,362.6" stroke="#fff" stroke-width="3" opacity="0.9" filter="url(#b1)"/>
<path d="M357.6,357.8 L360.4,371.6" stroke="#b9ab62" stroke-width="0.5" opacity="0.7"/>
<path d="M379.1,392.7 L403,396 C408.8,396.5 410.40000000000003,399.6 409.8,402.6 C410.2,406.6 410.29999999999995,409.8 407.9,410.8 L381.5,407.5 Z" fill="url(#cartG)" stroke="#b7bcc6" stroke-width="0.5" stroke-linejoin="round"/>
<path d="M380.6,395.7 L402,399" stroke="#fff" stroke-width="3" opacity="0.9" filter="url(#b1)"/>
<path d="M379.1,392.7 L381.5,407.5" stroke="#b9ab62" stroke-width="0.5" opacity="0.7"/>
<path d="M390.6,430.6 L419.5,433.1 C423,433.6 424.6,435.9 424,438.9 C424.4,442.9 425.2,447 422.8,448 L392.3,445.5 Z" fill="url(#cartG)" stroke="#b7bcc6" stroke-width="0.5" stroke-linejoin="round"/>
<path d="M392.1,433.6 L418.5,436.1" stroke="#fff" stroke-width="3" opacity="0.9" filter="url(#b1)"/>
<path d="M390.6,430.6 L392.3,445.5" stroke="#b9ab62" stroke-width="0.5" opacity="0.7"/>
<path d="M403.2,464.1 L433.8,472.5 C437,475 438.8,479 438.4,482.7 C438,486 437,488 435.7,489.2 L404.6,483.4 Z" fill="url(#cartG)" stroke="#b7bcc6" stroke-width="0.5" stroke-linejoin="round"/>
<path d="M404.7,467.1 L432.8,475.5" stroke="#fff" stroke-width="3" opacity="0.9" filter="url(#b1)"/>
<path d="M403.2,464.1 L404.6,483.4" stroke="#b9ab62" stroke-width="0.5" opacity="0.7"/>
<path d="M413.4,511.4 L435.7,508.6 C439,508.4 442,509.2 444.9,510.5 C448,513 449.8,516 449.6,519.8 C449.2,523.5 448,526 445.9,528.1 C443,530.2 439.6,531 435.7,530.9 L414.3,526.3 Z" fill="url(#cartG)" stroke="#b7bcc6" stroke-width="0.5" stroke-linejoin="round"/>
<path d="M414.9,514.4 L443,513.5" stroke="#fff" stroke-width="3" opacity="0.9" filter="url(#b1)"/>
<path d="M413.4,511.4 L414.3,526.3" stroke="#b9ab62" stroke-width="0.5" opacity="0.7"/>
<path d="M415.3,544.8 L441.2,551.3 C444,546 446.6,539 448.6,531 L452,528 C454,533 455,538.6 455.1,543.9 C456,549.5 456.2,555 456,560.6 C455.8,563 455.2,565 454.2,566.2 L441.2,566.2 L416.2,558.7 Z" fill="url(#cartG)" stroke="#b7bcc6" stroke-width="0.5" stroke-linejoin="round"/>
<path d="M416.8,547.8 L440.2,554.3" stroke="#fff" stroke-width="3" opacity="0.9" filter="url(#b1)"/>
<path d="M415.3,544.8 L416.2,558.7" stroke="#b9ab62" stroke-width="0.5" opacity="0.7"/>
<g filter="url(#b07)" fill="#f5f6f8" stroke="#e4e7ec" stroke-width="0.3">
<path d="M452,560 C456,566 457.4,574 457.4,582 L458.6,596 L466.8,596 C466.4,586 465.4,576 463.6,567 C462,560 460,553 457.4,547 Z"/>
<path d="M414.7,579 C424,581 436,586 446,590 C452,592.4 457,594.6 460,596 L466.6,597 C467.8,606 468,614 467.6,622 L458,624 C458,616 457.4,609 455,603.4 C444,604 430,600 415,594 Z"/>
<path d="M458.4,606 L467.4,604 C468.2,618 467.6,632 465.6,646 C463,658 457,670 450,680 C447.6,683.4 445,686.2 442.2,688.6 L436.6,684.6 C442,679 447,672 451,664.6 C455,656 457.4,647 458,638 C458.6,627 458.8,616 458.4,606 Z"/>
<path d="M419.2,621 C423,623.4 427,625 431.8,626 C436.6,627.2 441.4,627.8 445.7,627.4 C450.4,626.6 455,624.6 459.4,621 L459.6,634 C456,635.6 452.4,636.4 448.5,636.6 C444.6,637.2 441,637.4 437.4,637.1 C433.4,636.6 429.6,635.6 426.2,634.3 C423,631 420.6,626.4 419.2,621 Z"/>
<path d="M424.8,651 C428,652 431.4,652.6 434.6,652.5 C438.4,652.2 442.2,651.2 445.7,649.7 C450,647.6 454,644.8 457.6,640.6 L457.4,652.6 C454.6,656 451.6,658.8 448.5,660.8 C445.4,662.6 442.2,663.6 438.7,663.6 C435.8,663.4 433,662.4 430.4,660.8 C428,658 426.2,654.8 424.8,651 Z"/>
<path d="M431.8,675.6 C434.6,675.8 437.4,675.6 440.1,674.7 C443.2,673.4 446,671.6 448.5,669.2 C451,666.4 453.2,663 455,658.6 L456,668 C454.8,671 453.4,673.6 451.8,676.1 C449.6,679 447.2,681.4 444.3,683.1 C441.6,684.4 438.8,684.8 436,684.5 C434.2,681.8 432.8,678.8 431.8,675.6 Z"/>
</g>
<path d="M418,592 C430,598 444,601.6 455,602 M427,634.4 C438,637.6 449,636.8 458,633.4 M431,661 C440,664.4 449,660.6 456.6,652.4 M437,684 C444,684.4 450,678.6 455,668" stroke="#a9b3c6" stroke-width="2.6" fill="none" opacity="0.75" filter="url(#b1)"/>
<path d="M464,598 C466,614 465.6,632 463,648 C459.4,662 452,675 442,686" stroke="#bcc3d2" stroke-width="2.4" fill="none" opacity="0.7" filter="url(#b1)"/>
<path d="M417,582 C428,585 440,590 452,595 M422,624 C430,628 442,629.4 452,625 M428,653.4 C436,654.4 446,651 453,645 M435,677 C441,676.6 447,673 451.6,667" stroke="#fff" stroke-width="2" fill="none" opacity="0.9" filter="url(#b05)"/>
<path d="M433.8,566.4 L441.2,566.6 L455,567.4 C457,574 458,582 458,590 C450,588 442,585.6 434,582.6 Z" fill="#cdb5e0" opacity="0.95"/>
<path id="rectP" d="M464.8,647 C466.6,657 466.6,668 466,678.9 C465.2,688 464,697 463,706.8 C462,718 461.4,730 461,742 L440.6,742 C441,730 442,718 442.8,706.8 C442.8,700 442.6,694 442.9,687.3 C446,682.6 449,678.6 451.4,674.6 C456.4,666.6 461,657 463.4,648 Z" fill="#a64c34"/>
<clipPath id="rectClip"><use href="#rectP"/></clipPath>
<g clip-path="url(#rectClip)"><path d="M458,655 C453,680 451,708 451,742" stroke="#c87a55" stroke-width="5" fill="none" filter="url(#b2)" opacity="0.8"/><path d="M466,650 C464,680 462.4,710 461,742" stroke="#7e2c1e" stroke-width="4" fill="none" filter="url(#b1)" opacity="0.7"/><path d="M447,682 C444,700 443,720 442,742" stroke="#8a3826" stroke-width="3" fill="none" filter="url(#b1)" opacity="0.65"/></g>
<g transform="rotate(-14 220.2 513.5)"><rect x="209.7" y="506.8" width="21.1" height="13.4" rx="4.5" fill="#f6efbb" stroke="#cbbd86" stroke-width="0.7"/><path d="M216.2,511.5 q2,-3 4,0 q2,3 4,-1 M217.2,516.5 q3,-2 5,1 M219.2,509.5 l1,7 M222.8,510.5 l-1.5,6" stroke="#d3c588" stroke-width="1.2" fill="none" opacity="0.95"/><path d="M214.2,514.5 l2,1.5 M224.8,515.9 l1.6,-2 M215.2,509.5 l2,1 M224.2,508.9 l1,2 M219.2,518.5 l2.4,-0.6" stroke="#dccf96" stroke-width="1" fill="none" opacity="0.9"/><rect x="210.9" y="508.0" width="18.7" height="11.0" rx="3.6" fill="none" stroke="#fbf7d6" stroke-width="1.6" opacity="0.8"/></g>
<g transform="rotate(-14 224.0 541.2)"><rect x="213.2" y="532.4" width="21.6" height="17.8" rx="4.5" fill="#f6efbb" stroke="#cbbd86" stroke-width="0.7"/><path d="M220.0,539.2 q2,-3 4,0 q2,3 4,-1 M221.0,544.2 q3,-2 5,1 M223.0,537.2 l1,7 M226.5,538.2 l-1.5,6" stroke="#d3c588" stroke-width="1.2" fill="none" opacity="0.95"/><path d="M218.0,542.2 l2,1.5 M228.6,543.6 l1.6,-2 M219.0,537.2 l2,1 M228.0,536.6 l1,2 M223.0,546.2 l2.4,-0.6" stroke="#dccf96" stroke-width="1" fill="none" opacity="0.9"/><rect x="214.4" y="533.6" width="19.2" height="15.4" rx="3.6" fill="none" stroke="#fbf7d6" stroke-width="1.6" opacity="0.8"/></g>
<g transform="rotate(-15 231.8 570.8)"><rect x="220.2" y="561.4" width="23.0" height="18.7" rx="4.5" fill="#f6efbb" stroke="#cbbd86" stroke-width="0.7"/><path d="M227.8,568.8 q2,-3 4,0 q2,3 4,-1 M228.8,573.8 q3,-2 5,1 M230.8,566.8 l1,7 M234.2,567.8 l-1.5,6" stroke="#d3c588" stroke-width="1.2" fill="none" opacity="0.95"/><path d="M225.8,571.8 l2,1.5 M236.3,573.1 l1.6,-2 M226.8,566.8 l2,1 M235.8,566.1 l1,2 M230.8,575.8 l2.4,-0.6" stroke="#dccf96" stroke-width="1" fill="none" opacity="0.9"/><rect x="221.4" y="562.6" width="20.6" height="16.3" rx="3.6" fill="none" stroke="#fbf7d6" stroke-width="1.6" opacity="0.8"/></g>
<g transform="rotate(-17 240.1 601.3)"><rect x="228.6" y="591.4" width="22.8" height="19.8" rx="4.5" fill="#f6efbb" stroke="#cbbd86" stroke-width="0.7"/><path d="M236.1,599.3 q2,-3 4,0 q2,3 4,-1 M237.1,604.3 q3,-2 5,1 M239.1,597.3 l1,7 M242.6,598.3 l-1.5,6" stroke="#d3c588" stroke-width="1.2" fill="none" opacity="0.95"/><path d="M234.1,602.3 l2,1.5 M244.7,603.7 l1.6,-2 M235.1,597.3 l2,1 M244.1,596.7 l1,2 M239.1,606.3 l2.4,-0.6" stroke="#dccf96" stroke-width="1" fill="none" opacity="0.9"/><rect x="229.8" y="592.6" width="20.4" height="17.4" rx="3.6" fill="none" stroke="#fbf7d6" stroke-width="1.6" opacity="0.8"/></g>
<g transform="rotate(-17 252.3 631.4)"><rect x="240.9" y="621.4" width="22.8" height="20.0" rx="4.5" fill="#f6efbb" stroke="#cbbd86" stroke-width="0.7"/><path d="M248.3,629.4 q2,-3 4,0 q2,3 4,-1 M249.3,634.4 q3,-2 5,1 M251.3,627.4 l1,7 M254.8,628.4 l-1.5,6" stroke="#d3c588" stroke-width="1.2" fill="none" opacity="0.95"/><path d="M246.3,632.4 l2,1.5 M256.9,633.8 l1.6,-2 M247.3,627.4 l2,1 M256.4,626.8 l1,2 M251.3,636.4 l2.4,-0.6" stroke="#dccf96" stroke-width="1" fill="none" opacity="0.9"/><rect x="242.1" y="622.6" width="20.4" height="17.6" rx="3.6" fill="none" stroke="#fbf7d6" stroke-width="1.6" opacity="0.8"/></g>
<g transform="rotate(-15 262.0 661.7)"><rect x="250.5" y="651.8" width="22.8" height="19.8" rx="4.5" fill="#f6efbb" stroke="#cbbd86" stroke-width="0.7"/><path d="M258.0,659.7 q2,-3 4,0 q2,3 4,-1 M259.0,664.7 q3,-2 5,1 M261.0,657.7 l1,7 M264.5,658.7 l-1.5,6" stroke="#d3c588" stroke-width="1.2" fill="none" opacity="0.95"/><path d="M256.0,662.7 l2,1.5 M266.6,664.1 l1.6,-2 M257.0,657.7 l2,1 M266.0,657.1 l1,2 M261.0,666.7 l2.4,-0.6" stroke="#dccf96" stroke-width="1" fill="none" opacity="0.9"/><rect x="251.7" y="653.0" width="20.4" height="17.4" rx="3.6" fill="none" stroke="#fbf7d6" stroke-width="1.6" opacity="0.8"/></g>
<path d="M270,356 C276,350 286,344 298,339 L306,336 L322,337 C330,340 337,343.6 343,346.5 L345.6,354 C345,360 343.4,365 341,369.6 L326,366.4 L314,361.8 L300,356.6 C294,357 288,359 284,362 L274,362 Z" fill="#faf7c8"/>
<path d="M300,356.6 L314,361.8 L326,366.4 L341,369.6" fill="none" stroke="#b9ab62" stroke-width="0.6" opacity="0.7"/>
<path d="M304,350 C312,353 326,358 342,361" fill="none" stroke="#e6dd98" stroke-width="3" opacity="0.6" filter="url(#b1)"/>
<path d="M301.8,351 C306,355 314,358 322,359.6" fill="none" stroke="#b9ab62" stroke-width="0.5" opacity="0.6"/>
<path id="scapP" d="M237.7,326.6 C241.4,325.5 243.4,324.4 246.0,324.6 C248.6,324.8 251.0,326.0 253.0,327.6 C255.0,329.2 256.3,332.4 257.8,334.0 C259.3,335.6 258.2,337.6 262.0,337.0 C265.8,336.4 273.4,331.7 280.7,330.6 C287.9,329.5 300.1,329.7 305.5,330.4 C310.9,331.1 311.9,333.3 313.0,334.7 C314.1,336.1 313.2,337.9 312.0,339.0 C310.8,340.1 308.8,340.6 305.5,341.6 C302.2,342.6 295.6,343.6 292.0,345.0 C288.4,346.4 285.6,348.1 284.0,350.0 C282.4,351.9 280.5,355.3 282.4,356.2 C284.3,357.1 292.3,354.3 295.6,355.4 C298.9,356.5 301.0,359.4 302.2,362.8 C303.4,366.2 303.2,371.6 302.6,376.0 C302.1,380.4 300.6,385.6 298.9,389.2 C297.2,392.8 295.1,395.6 292.3,397.4 C289.6,399.2 285.7,399.6 282.4,399.9 C279.1,400.2 274.7,396.9 272.5,399.0 C270.3,401.1 270.8,407.3 269.2,412.3 C267.6,417.3 264.8,423.9 262.6,428.8 C260.4,433.8 258.2,437.9 256.0,442.0 C253.8,446.1 252.0,449.5 249.4,453.5 C246.8,457.5 243.3,461.6 240.4,466.0 C237.5,470.4 234.2,476.3 232.0,480.0 C229.8,483.7 229.4,484.5 227.0,488.0 C224.6,491.5 220.3,497.7 217.6,501.0 C214.9,504.3 212.8,506.6 211.0,508.0 C209.2,509.4 208.7,510.3 206.9,509.5 C205.1,508.7 202.2,508.6 200.0,503.0 C197.8,497.4 195.1,486.2 193.5,476.0 C191.9,465.8 190.4,453.5 190.6,442.0 C190.8,430.5 192.8,418.2 194.8,407.0 C196.9,395.8 200.0,385.7 202.9,375.0 C205.8,364.3 208.7,350.3 212.2,343.0 C215.7,335.7 219.8,333.7 224.0,331.0 C228.2,328.3 234.0,327.7 237.7,326.6 Z" fill="#faf7c8"/>
<clipPath id="scapClip"><path d="M237.7,326.6 C241.4,325.5 243.4,324.4 246.0,324.6 C248.6,324.8 251.0,326.0 253.0,327.6 C255.0,329.2 256.3,332.4 257.8,334.0 C259.3,335.6 258.2,337.6 262.0,337.0 C265.8,336.4 273.4,331.7 280.7,330.6 C287.9,329.5 300.1,329.7 305.5,330.4 C310.9,331.1 311.9,333.3 313.0,334.7 C314.1,336.1 313.2,337.9 312.0,339.0 C310.8,340.1 308.8,340.6 305.5,341.6 C302.2,342.6 295.6,343.6 292.0,345.0 C288.4,346.4 285.6,348.1 284.0,350.0 C282.4,351.9 280.5,355.3 282.4,356.2 C284.3,357.1 292.3,354.3 295.6,355.4 C298.9,356.5 301.0,359.4 302.2,362.8 C303.4,366.2 303.2,371.6 302.6,376.0 C302.1,380.4 300.6,385.6 298.9,389.2 C297.2,392.8 295.1,395.6 292.3,397.4 C289.6,399.2 285.7,399.6 282.4,399.9 C279.1,400.2 274.7,396.9 272.5,399.0 C270.3,401.1 270.8,407.3 269.2,412.3 C267.6,417.3 264.8,423.9 262.6,428.8 C260.4,433.8 258.2,437.9 256.0,442.0 C253.8,446.1 252.0,449.5 249.4,453.5 C246.8,457.5 243.3,461.6 240.4,466.0 C237.5,470.4 234.2,476.3 232.0,480.0 C229.8,483.7 229.4,484.5 227.0,488.0 C224.6,491.5 220.3,497.7 217.6,501.0 C214.9,504.3 212.8,506.6 211.0,508.0 C209.2,509.4 208.7,510.3 206.9,509.5 C205.1,508.7 202.2,508.6 200.0,503.0 C197.8,497.4 195.1,486.2 193.5,476.0 C191.9,465.8 190.4,453.5 190.6,442.0 C190.8,430.5 192.8,418.2 194.8,407.0 C196.9,395.8 200.0,385.7 202.9,375.0 C205.8,364.3 208.7,350.3 212.2,343.0 C215.7,335.7 219.8,333.7 224.0,331.0 C228.2,328.3 234.0,327.7 237.7,326.6 Z"/></clipPath>
<g clip-path="url(#scapClip)"><path d="M237.7,326.6 C241.4,325.5 243.4,324.4 246.0,324.6 C248.6,324.8 251.0,326.0 253.0,327.6 C255.0,329.2 256.3,332.4 257.8,334.0 C259.3,335.6 258.2,337.6 262.0,337.0 C265.8,336.4 273.4,331.7 280.7,330.6 C287.9,329.5 300.1,329.7 305.5,330.4 C310.9,331.1 311.9,333.3 313.0,334.7 C314.1,336.1 313.2,337.9 312.0,339.0 C310.8,340.1 308.8,340.6 305.5,341.6 C302.2,342.6 295.6,343.6 292.0,345.0 C288.4,346.4 285.6,348.1 284.0,350.0 C282.4,351.9 280.5,355.3 282.4,356.2 C284.3,357.1 292.3,354.3 295.6,355.4 C298.9,356.5 301.0,359.4 302.2,362.8 C303.4,366.2 303.2,371.6 302.6,376.0 C302.1,380.4 300.6,385.6 298.9,389.2 C297.2,392.8 295.1,395.6 292.3,397.4 C289.6,399.2 285.7,399.6 282.4,399.9 C279.1,400.2 274.7,396.9 272.5,399.0 C270.3,401.1 270.8,407.3 269.2,412.3 C267.6,417.3 264.8,423.9 262.6,428.8 C260.4,433.8 258.2,437.9 256.0,442.0 C253.8,446.1 252.0,449.5 249.4,453.5 C246.8,457.5 243.3,461.6 240.4,466.0 C237.5,470.4 234.2,476.3 232.0,480.0 C229.8,483.7 229.4,484.5 227.0,488.0 C224.6,491.5 220.3,497.7 217.6,501.0 C214.9,504.3 212.8,506.6 211.0,508.0 C209.2,509.4 208.7,510.3 206.9,509.5 C205.1,508.7 202.2,508.6 200.0,503.0 C197.8,497.4 195.1,486.2 193.5,476.0 C191.9,465.8 190.4,453.5 190.6,442.0 C190.8,430.5 192.8,418.2 194.8,407.0 C196.9,395.8 200.0,385.7 202.9,375.0 C205.8,364.3 208.7,350.3 212.2,343.0 C215.7,335.7 219.8,333.7 224.0,331.0 C228.2,328.3 234.0,327.7 237.7,326.6 Z" fill="none" stroke="#e6dd98" stroke-width="9" filter="url(#b3)" opacity="0.75"/><ellipse cx="228" cy="420" rx="22" ry="60" fill="#fbf9d6" filter="url(#b6)" opacity="0.9" transform="rotate(12 228 420)"/><path d="M230,353 C245,346 262,343 282,345 C292,344 302,342 312,338" stroke="#b9ab62" stroke-width="0.7" fill="none" opacity="0.8"/><path d="M231,356 C246,350 262,347 283,348.6" stroke="#e6dd98" stroke-width="3" fill="none" filter="url(#b1)" opacity="0.8"/><path d="M226,350 C232,340 243,333 257,334" stroke="#b9ab62" stroke-width="0.6" fill="none" opacity="0.7"/><path d="M270,372 C271,363 277,357 286,356 C296,356 301,364 300.6,376 C300,388 294,396 284,398" stroke="#b9ab62" stroke-width="0.7" fill="none" opacity="0.8"/><ellipse cx="289" cy="372" rx="7" ry="13" fill="#fbf9d6" filter="url(#b2)" opacity="0.95" transform="rotate(10 289 372)"/><path d="M272,376 C273,366 279,360 287,360" stroke="#e6dd98" stroke-width="3" fill="none" filter="url(#b1)" opacity="0.8"/></g>
<path d="M237.7,326.6 C241.4,325.5 243.4,324.4 246.0,324.6 C248.6,324.8 251.0,326.0 253.0,327.6 C255.0,329.2 256.3,332.4 257.8,334.0 C259.3,335.6 258.2,337.6 262.0,337.0 C265.8,336.4 273.4,331.7 280.7,330.6 C287.9,329.5 300.1,329.7 305.5,330.4 C310.9,331.1 311.9,333.3 313.0,334.7 C314.1,336.1 313.2,337.9 312.0,339.0 C310.8,340.1 308.8,340.6 305.5,341.6 C302.2,342.6 295.6,343.6 292.0,345.0 C288.4,346.4 285.6,348.1 284.0,350.0 C282.4,351.9 280.5,355.3 282.4,356.2 C284.3,357.1 292.3,354.3 295.6,355.4 C298.9,356.5 301.0,359.4 302.2,362.8 C303.4,366.2 303.2,371.6 302.6,376.0 C302.1,380.4 300.6,385.6 298.9,389.2 C297.2,392.8 295.1,395.6 292.3,397.4 C289.6,399.2 285.7,399.6 282.4,399.9 C279.1,400.2 274.7,396.9 272.5,399.0 C270.3,401.1 270.8,407.3 269.2,412.3 C267.6,417.3 264.8,423.9 262.6,428.8 C260.4,433.8 258.2,437.9 256.0,442.0 C253.8,446.1 252.0,449.5 249.4,453.5 C246.8,457.5 243.3,461.6 240.4,466.0 C237.5,470.4 234.2,476.3 232.0,480.0 C229.8,483.7 229.4,484.5 227.0,488.0 C224.6,491.5 220.3,497.7 217.6,501.0 C214.9,504.3 212.8,506.6 211.0,508.0 C209.2,509.4 208.7,510.3 206.9,509.5 C205.1,508.7 202.2,508.6 200.0,503.0 C197.8,497.4 195.1,486.2 193.5,476.0 C191.9,465.8 190.4,453.5 190.6,442.0 C190.8,430.5 192.8,418.2 194.8,407.0 C196.9,395.8 200.0,385.7 202.9,375.0 C205.8,364.3 208.7,350.3 212.2,343.0 C215.7,335.7 219.8,333.7 224.0,331.0 C228.2,328.3 234.0,327.7 237.7,326.6 Z" fill="none" stroke="#b9ab62" stroke-width="0.7" opacity="0.85"/>
<path d="M290.6,326.5 C290.9,324.8 295.9,321.3 298.9,320.4 C301.9,319.5 304.9,320.2 308.8,321.2 C312.7,322.2 317.6,324.3 322.0,326.2 C326.4,328.1 330.5,330.5 335.2,332.6 C339.9,334.7 344.9,337.4 350.0,338.6 C355.1,339.8 361.3,339.7 366.0,339.6 C370.7,339.5 374.7,337.9 378.0,338.0 C381.3,338.1 383.9,338.7 385.6,340.0 C387.3,341.3 387.9,343.9 388.0,346.0 C388.1,348.1 387.9,351.1 386.4,352.6 C384.9,354.1 382.4,354.6 379.0,354.8 C375.6,355.0 370.8,354.4 366.0,353.6 C361.2,352.8 355.1,351.5 350.0,349.8 C344.9,348.1 339.9,345.2 335.2,343.2 C330.5,341.2 325.9,339.5 322.0,338.0 C318.1,336.5 316.1,335.2 312.0,334.0 C307.9,332.8 300.8,331.9 297.2,330.6 C293.6,329.4 290.3,328.2 290.6,326.5 Z" fill="#faf7c8" stroke="#b9ab62" stroke-width="0.7"/>
<path d="M300.0,327.0 C303.7,328.2 313.7,330.9 322.0,334.0 C330.3,337.1 341.7,343.1 350.0,345.6 C358.3,348.1 368.3,348.4 372.0,349.0" fill="none" stroke="#e6dd98" stroke-width="3" filter="url(#b1)" opacity="0.7"/>
<path d="M299.0,323.6 C302.8,324.6 313.5,326.6 322.0,329.6 C330.5,332.6 345.3,339.4 350.0,341.4" fill="none" stroke="#fbf9d6" stroke-width="2.4" filter="url(#b05)" opacity="0.9"/>
</g>
<g id="muscles">
<linearGradient id="scmG" gradientUnits="userSpaceOnUse" x1="318" y1="270" x2="362" y2="262"><stop offset="0" stop-color="#dd9d76"/><stop offset="0.35" stop-color="#cf8059"/><stop offset="0.6" stop-color="#b24c36"/><stop offset="0.85" stop-color="#9c3327"/><stop offset="1" stop-color="#a84534"/></linearGradient>
<path id="scm" d="M313.6,219.0 C313.3,214.5 315.1,215.4 316.5,214.4 C317.9,213.4 320.1,213.2 322.0,212.8 C323.9,212.4 326.0,211.9 328.0,211.8 C330.0,211.7 332.0,212.4 334.0,212.4 C336.0,212.4 338.0,211.7 340.0,211.8 C342.0,211.9 344.1,212.6 346.0,213.2 C347.9,213.8 349.8,214.2 351.1,215.5 C352.4,216.8 353.0,218.6 353.6,221.0 C354.2,223.4 354.3,224.9 354.6,229.7 C354.9,234.4 354.8,242.9 355.2,249.5 C355.6,256.1 355.9,262.1 356.9,269.2 C357.9,276.3 359.5,284.6 361.0,292.3 C362.5,300.0 364.4,308.8 365.9,315.4 C367.4,322.0 368.6,326.9 370.0,331.9 C371.4,336.9 374.7,343.7 374.0,345.6 C373.3,347.5 368.7,344.2 366.0,343.4 C363.3,342.6 360.7,341.7 358.0,341.0 C355.3,340.3 352.1,340.0 350.0,339.4 C347.9,338.8 346.0,340.3 345.3,337.4 C344.6,334.5 346.3,327.1 345.6,322.0 C344.9,316.9 343.0,312.8 341.2,307.0 C339.4,301.2 337.1,294.2 334.6,287.4 C332.1,280.6 329.1,273.7 326.4,266.0 C323.6,258.3 320.2,249.0 318.1,241.2 C316.0,233.4 313.9,223.5 313.6,219.0 Z" fill="url(#scmG)"/>
<clipPath id="scmC"><path d="M313.6,219.0 C313.3,214.5 315.1,215.4 316.5,214.4 C317.9,213.4 320.1,213.2 322.0,212.8 C323.9,212.4 326.0,211.9 328.0,211.8 C330.0,211.7 332.0,212.4 334.0,212.4 C336.0,212.4 338.0,211.7 340.0,211.8 C342.0,211.9 344.1,212.6 346.0,213.2 C347.9,213.8 349.8,214.2 351.1,215.5 C352.4,216.8 353.0,218.6 353.6,221.0 C354.2,223.4 354.3,224.9 354.6,229.7 C354.9,234.4 354.8,242.9 355.2,249.5 C355.6,256.1 355.9,262.1 356.9,269.2 C357.9,276.3 359.5,284.6 361.0,292.3 C362.5,300.0 364.4,308.8 365.9,315.4 C367.4,322.0 368.6,326.9 370.0,331.9 C371.4,336.9 374.7,343.7 374.0,345.6 C373.3,347.5 368.7,344.2 366.0,343.4 C363.3,342.6 360.7,341.7 358.0,341.0 C355.3,340.3 352.1,340.0 350.0,339.4 C347.9,338.8 346.0,340.3 345.3,337.4 C344.6,334.5 346.3,327.1 345.6,322.0 C344.9,316.9 343.0,312.8 341.2,307.0 C339.4,301.2 337.1,294.2 334.6,287.4 C332.1,280.6 329.1,273.7 326.4,266.0 C323.6,258.3 320.2,249.0 318.1,241.2 C316.0,233.4 313.9,223.5 313.6,219.0 Z"/></clipPath>
<g clip-path="url(#scmC)">
<path d="M345.0,222.0 C345.7,227.5 347.5,243.7 349.0,255.0 C350.5,266.3 351.8,278.3 354.0,290.0 C356.2,301.7 359.7,316.2 362.0,325.0 C364.3,333.8 367.0,340.0 368.0,343.0" fill="none" stroke="#8a2d20" stroke-width="4.5" opacity="0.6" filter="url(#b1)"/>
<path d="M338.0,225.0 C338.8,230.5 341.0,246.3 343.0,258.0 C345.0,269.7 347.2,282.2 350.0,295.0 C352.8,307.8 358.3,328.3 360.0,335.0" fill="none" stroke="#8a2d20" stroke-width="2" opacity="0.4" filter="url(#b1)"/>
<path d="M352.0,226.0 C352.2,230.0 352.8,242.3 353.5,250.0 C354.2,257.7 355.6,268.3 356.0,272.0" fill="none" stroke="#8a2d20" stroke-width="2.5" opacity="0.5" filter="url(#b1)"/>
<path d="M322.0,226.0 C323.0,230.8 325.3,244.3 328.0,255.0 C330.7,265.7 334.3,278.3 338.0,290.0 C341.7,301.7 347.2,316.7 350.0,325.0 C352.8,333.3 354.2,337.5 355.0,340.0" fill="none" stroke="#e09a6e" stroke-width="2.2" opacity="0.8" filter="url(#b05)"/>
<path d="M330.0,226.0 C331.0,231.3 333.3,246.5 336.0,258.0 C338.7,269.5 342.3,282.2 346.0,295.0 C349.7,307.8 356.0,328.3 358.0,335.0" fill="none" stroke="#e09a6e" stroke-width="1.6" opacity="0.7" filter="url(#b05)"/>
<path d="M318.0,228.0 C318.8,231.7 320.7,241.3 323.0,250.0 C325.3,258.7 328.5,269.2 332.0,280.0 C335.5,290.8 341.3,305.7 344.0,315.0 C346.7,324.3 347.3,332.5 348.0,336.0" fill="none" stroke="#e09a6e" stroke-width="1.4" opacity="0.6" filter="url(#b05)"/>
<path d="M343,333 L376,344 L377,350 L343,340 Z" fill="#f8efe0" filter="url(#b1)" opacity="0.95"/><path d="M346,327 L349,336 M351,328 L355,338 M357,331 L361,340 M363,334 L367,342" stroke="#f6e6da" stroke-width="1.2" opacity="0.8" filter="url(#b05)"/>
</g>
<path d="M343,338.6 C352,341 364,344.6 376,348.4" stroke="#faf7c8" stroke-width="3" fill="none" filter="url(#b1)" opacity="0.95"/>
<path d="M313.2,218 C317,212.6 325,207.6 332.6,206 C341,206.4 349.6,211 353.6,219 L354.8,227.4 C351,230 348,227 345,230.4 C342,227.4 339,231 336,228.4 C333,231.4 330,228 327,230.6 C324,228 321,230.6 318.6,228 C317,228.6 315.6,227.4 315,226.4 Z" fill="#f8eee5" filter="url(#b1)"/>
<path d="M316,222 C324,215 342,214 352,222" stroke="#fbf5ef" stroke-width="5" fill="none" filter="url(#b2)" opacity="0.9"/>
<path d="M316,229 C326,232 342,232 354,229" stroke="#f0cdb8" stroke-width="3.4" fill="none" filter="url(#b1)" opacity="0.75"/>
<linearGradient id="pmG" gradientUnits="userSpaceOnUse" x1="326" y1="430" x2="372" y2="424"><stop offset="0" stop-color="#cf8259"/><stop offset="0.5" stop-color="#bb5b3d"/><stop offset="1" stop-color="#a6402e"/></linearGradient>
<path id="pm" d="M322.6,361.0 C323.2,356.0 329.4,359.1 333.0,358.6 C336.6,358.1 341.8,357.0 344.5,358.2 C347.2,359.4 347.2,363.2 349.0,366.0 C350.8,368.8 353.2,372.2 355.5,375.0 C357.8,377.8 360.6,380.6 363.0,383.0 C365.4,385.4 367.8,387.6 370.0,389.6 C372.2,391.6 376.7,394.1 376.5,394.8 C376.3,395.5 371.2,393.9 369.0,393.8 C366.8,393.7 364.5,393.4 363.0,394.4 C361.5,395.3 360.0,396.9 360.0,399.5 C360.0,402.1 361.5,406.8 363.0,410.0 C364.5,413.2 366.8,416.4 369.0,419.0 C371.2,421.6 373.9,423.7 376.0,425.6 C378.1,427.5 382.1,429.7 381.8,430.2 C381.5,430.7 376.3,428.9 374.0,428.8 C371.7,428.7 369.4,428.9 368.0,429.8 C366.6,430.8 365.7,432.2 365.4,434.5 C365.1,436.8 365.3,440.8 366.0,443.4 C366.7,446.0 367.8,447.6 369.5,450.0 C371.2,452.4 376.1,456.5 376.4,457.6 C376.6,458.7 372.5,456.4 371.0,456.8 C369.5,457.2 368.1,457.9 367.6,459.8 C367.1,461.7 367.6,464.8 368.0,468.0 C368.4,471.2 369.3,475.5 370.2,479.0 C371.1,482.5 372.2,485.4 373.6,489.0 C375.0,492.6 379.7,499.0 378.4,500.4 C377.1,501.8 369.8,498.4 366.0,497.6 C362.2,496.8 359.2,496.3 355.5,495.5 C351.8,494.7 347.7,493.7 344.0,493.0 C340.3,492.3 336.7,491.7 333.5,491.4 C330.3,491.1 327.8,491.1 325.0,491.0 C322.2,490.9 317.1,491.8 316.6,490.6 C316.1,489.4 319.6,487.3 322.0,484.0 C324.4,480.7 328.4,477.6 330.8,470.8 C333.2,464.0 335.4,452.5 336.3,443.4 C337.2,434.3 337.4,425.1 336.3,416.0 C335.2,406.9 331.8,397.7 329.5,388.5 C327.2,379.3 322.0,366.0 322.6,361.0 Z" fill="url(#pmG)"/>
<clipPath id="pmC"><path d="M322.6,361.0 C323.2,356.0 329.4,359.1 333.0,358.6 C336.6,358.1 341.8,357.0 344.5,358.2 C347.2,359.4 347.2,363.2 349.0,366.0 C350.8,368.8 353.2,372.2 355.5,375.0 C357.8,377.8 360.6,380.6 363.0,383.0 C365.4,385.4 367.8,387.6 370.0,389.6 C372.2,391.6 376.7,394.1 376.5,394.8 C376.3,395.5 371.2,393.9 369.0,393.8 C366.8,393.7 364.5,393.4 363.0,394.4 C361.5,395.3 360.0,396.9 360.0,399.5 C360.0,402.1 361.5,406.8 363.0,410.0 C364.5,413.2 366.8,416.4 369.0,419.0 C371.2,421.6 373.9,423.7 376.0,425.6 C378.1,427.5 382.1,429.7 381.8,430.2 C381.5,430.7 376.3,428.9 374.0,428.8 C371.7,428.7 369.4,428.9 368.0,429.8 C366.6,430.8 365.7,432.2 365.4,434.5 C365.1,436.8 365.3,440.8 366.0,443.4 C366.7,446.0 367.8,447.6 369.5,450.0 C371.2,452.4 376.1,456.5 376.4,457.6 C376.6,458.7 372.5,456.4 371.0,456.8 C369.5,457.2 368.1,457.9 367.6,459.8 C367.1,461.7 367.6,464.8 368.0,468.0 C368.4,471.2 369.3,475.5 370.2,479.0 C371.1,482.5 372.2,485.4 373.6,489.0 C375.0,492.6 379.7,499.0 378.4,500.4 C377.1,501.8 369.8,498.4 366.0,497.6 C362.2,496.8 359.2,496.3 355.5,495.5 C351.8,494.7 347.7,493.7 344.0,493.0 C340.3,492.3 336.7,491.7 333.5,491.4 C330.3,491.1 327.8,491.1 325.0,491.0 C322.2,490.9 317.1,491.8 316.6,490.6 C316.1,489.4 319.6,487.3 322.0,484.0 C324.4,480.7 328.4,477.6 330.8,470.8 C333.2,464.0 335.4,452.5 336.3,443.4 C337.2,434.3 337.4,425.1 336.3,416.0 C335.2,406.9 331.8,397.7 329.5,388.5 C327.2,379.3 322.0,366.0 322.6,361.0 Z"/></clipPath>
<g clip-path="url(#pmC)">
<path d="M348.0,366.0 C349.3,370.8 354.3,384.3 356.0,395.0 C357.7,405.7 357.0,419.2 358.0,430.0 C359.0,440.8 360.0,449.7 362.0,460.0 C364.0,470.3 368.7,486.7 370.0,492.0" fill="none" stroke="#8a2d20" stroke-width="3.2" opacity="0.65" filter="url(#b1)"/>
<path d="M336.0,380.0 C336.7,386.7 339.5,406.7 340.0,420.0 C340.5,433.3 340.3,449.0 339.0,460.0 C337.7,471.0 333.2,481.7 332.0,486.0" fill="none" stroke="#8a2d20" stroke-width="1.8" opacity="0.5" filter="url(#b1)"/>
<path d="M352.0,384.0 C354.0,385.3 360.3,390.2 364.0,392.0 C367.7,393.8 372.3,394.2 374.0,394.6" fill="none" stroke="#8a2d20" stroke-width="1.8" opacity="0.6" filter="url(#b1)"/>
<path d="M357.0,413.0 C358.8,414.8 364.2,421.2 368.0,424.0 C371.8,426.8 378.0,429.0 380.0,430.0" fill="none" stroke="#8a2d20" stroke-width="1.8" opacity="0.6" filter="url(#b1)"/>
<path d="M361.0,446.0 C362.2,447.0 365.7,450.2 368.0,452.0 C370.3,453.8 373.8,456.2 375.0,457.0" fill="none" stroke="#8a2d20" stroke-width="1.6" opacity="0.6" filter="url(#b1)"/>
<path d="M333.0,372.0 C333.8,376.7 336.7,388.7 338.0,400.0 C339.3,411.3 341.0,428.3 341.0,440.0 C341.0,451.7 340.2,461.8 338.0,470.0 C335.8,478.2 329.7,485.8 328.0,489.0" fill="none" stroke="#e09a6e" stroke-width="2.2" opacity="0.75" filter="url(#b05)"/>
<path d="M340.0,375.0 C340.8,380.8 343.8,397.5 345.0,410.0 C346.2,422.5 346.2,438.3 347.0,450.0 C347.8,461.7 348.5,472.7 350.0,480.0 C351.5,487.3 355.0,491.7 356.0,494.0" fill="none" stroke="#e09a6e" stroke-width="1.8" opacity="0.7" filter="url(#b05)"/>
<path d="M344.0,372.0 C345.3,377.5 350.0,393.7 352.0,405.0 C354.0,416.3 354.3,428.3 356.0,440.0 C357.7,451.7 359.3,465.5 362.0,475.0 C364.7,484.5 370.3,493.3 372.0,497.0" fill="none" stroke="#e09a6e" stroke-width="1.6" opacity="0.6" filter="url(#b05)"/>
<path d="M347.0,372.0 C348.5,374.7 352.2,384.5 356.0,388.0 C359.8,391.5 367.7,392.2 370.0,393.0" fill="none" stroke="#e09a6e" stroke-width="1.2" opacity="0.6" filter="url(#b05)"/>
<path d="M352.0,402.0 C353.7,405.0 357.7,415.5 362.0,420.0 C366.3,424.5 375.3,427.5 378.0,429.0" fill="none" stroke="#e09a6e" stroke-width="1.2" opacity="0.6" filter="url(#b05)"/>
<path d="M318,355 L349,354 L351,372 C353,382 351,392 348,398 C345,392 344,388 342,395 C340,389 339,386 337,392 C335,386 333,384 331,388 C327,380 324,370 321,362 Z" fill="#faece6" filter="url(#b2)" opacity="0.97"/><path d="M312,484 C322,480 334,481 346,485 C358,489 370,492 382,502 L380,507 L314,497 Z" fill="#fbf3ec" filter="url(#b1)" opacity="0.97"/><path d="M318,485.5 C330,482.6 345,486 358,490 C366,492.6 374,496 380,500.6" stroke="#fbf3ec" stroke-width="9" stroke-dasharray="0.8 1.3 1.5 1 0.6 1.7 1.2 0.9" fill="none" filter="url(#b07)" opacity="0.75"/>
</g>
<path d="M344.5,358.2 C345.2,359.5 347.2,363.2 349.0,366.0 C350.8,368.8 353.2,372.2 355.5,375.0 C357.8,377.8 360.6,380.6 363.0,383.0 C365.4,385.4 367.8,387.6 370.0,389.6 C372.2,391.6 375.4,393.9 376.5,394.8" fill="none" stroke="#6e2419" stroke-width="0.6" opacity="0.7"/>
<path d="M321,360.6 C328,358.6 338,357.6 346,357.6" stroke="#faf7c8" stroke-width="3" fill="none" filter="url(#b1)" opacity="0.9"/>
<path d="M330.8,470.8 C331.7,466.2 335.4,452.5 336.3,443.4 C337.2,434.3 337.4,425.1 336.3,416.0 C335.2,406.9 331.8,397.7 329.5,388.5 C327.2,379.3 323.8,365.6 322.6,361.0" fill="none" stroke="#8c3a28" stroke-width="0.6" opacity="0.6"/>
<path id="ic1" d="M314.1,488.3 C314.8,488.1 318.2,491.6 321.0,493.0 C323.8,494.4 327.0,495.4 331.0,496.4 C335.0,497.4 340.5,498.2 345.0,499.0 C349.5,499.8 353.7,500.7 358.0,501.4 C362.3,502.1 368.7,502.0 370.7,503.4 C372.7,504.8 370.1,507.7 370.0,510.0 C369.9,512.3 369.7,514.5 370.4,517.0 C371.1,519.5 372.5,522.4 374.0,525.0 C375.5,527.6 380.1,531.9 379.6,532.6 C379.1,533.3 373.9,530.5 371.0,529.4 C368.1,528.3 366.4,527.6 362.1,526.0 C357.8,524.4 349.6,521.6 345.0,520.0 C340.4,518.4 337.9,517.7 334.7,516.6 C331.5,515.5 328.9,514.4 326.0,513.6 C323.1,512.8 318.4,512.9 317.2,511.6 C316.0,510.3 318.4,507.8 318.6,506.0 C318.8,504.2 318.5,502.6 318.2,500.6 C317.9,498.6 317.3,496.1 316.6,494.0 C315.9,491.9 313.4,488.5 314.1,488.3 Z" fill="#b9583b"/>
<clipPath id="ic1C"><path d="M314.1,488.3 C314.8,488.1 318.2,491.6 321.0,493.0 C323.8,494.4 327.0,495.4 331.0,496.4 C335.0,497.4 340.5,498.2 345.0,499.0 C349.5,499.8 353.7,500.7 358.0,501.4 C362.3,502.1 368.7,502.0 370.7,503.4 C372.7,504.8 370.1,507.7 370.0,510.0 C369.9,512.3 369.7,514.5 370.4,517.0 C371.1,519.5 372.5,522.4 374.0,525.0 C375.5,527.6 380.1,531.9 379.6,532.6 C379.1,533.3 373.9,530.5 371.0,529.4 C368.1,528.3 366.4,527.6 362.1,526.0 C357.8,524.4 349.6,521.6 345.0,520.0 C340.4,518.4 337.9,517.7 334.7,516.6 C331.5,515.5 328.9,514.4 326.0,513.6 C323.1,512.8 318.4,512.9 317.2,511.6 C316.0,510.3 318.4,507.8 318.6,506.0 C318.8,504.2 318.5,502.6 318.2,500.6 C317.9,498.6 317.3,496.1 316.6,494.0 C315.9,491.9 313.4,488.5 314.1,488.3 Z"/></clipPath>
<g clip-path="url(#ic1C)">
<path d="M328.0,496.0 C328.5,499.2 330.5,511.8 331.0,515.0" fill="none" stroke="#8a2d20" stroke-width="2" opacity="0.5" filter="url(#b1)"/>
<path d="M342.0,499.0 C342.8,502.5 346.2,516.5 347.0,520.0" fill="none" stroke="#8a2d20" stroke-width="2" opacity="0.5" filter="url(#b1)"/>
<path d="M356.0,501.0 C357.0,505.0 361.0,521.0 362.0,525.0" fill="none" stroke="#8a2d20" stroke-width="2" opacity="0.5" filter="url(#b1)"/>
<path d="M367.0,503.0 C368.3,507.5 373.7,525.5 375.0,530.0" fill="none" stroke="#8a2d20" stroke-width="1.6" opacity="0.55" filter="url(#b1)"/>
<path d="M322.0,494.0 C322.3,497.2 323.7,509.8 324.0,513.0" fill="none" stroke="#e09a6e" stroke-width="1.4" opacity="0.6" filter="url(#b05)"/>
<path d="M334.0,498.0 C334.7,501.2 337.3,513.8 338.0,517.0" fill="none" stroke="#e09a6e" stroke-width="1.4" opacity="0.6" filter="url(#b05)"/>
<path d="M348.0,500.0 C349.0,503.7 353.0,518.3 354.0,522.0" fill="none" stroke="#e09a6e" stroke-width="1.4" opacity="0.6" filter="url(#b05)"/>
<path d="M362.0,502.0 C363.2,506.3 367.8,523.7 369.0,528.0" fill="none" stroke="#e09a6e" stroke-width="1.2" opacity="0.6" filter="url(#b05)"/>
<path d="M313,489 C330,497 350,500.6 373,503" stroke="#fbf1ea" stroke-width="3" fill="none" filter="url(#b1)" opacity="0.9"/><path d="M314,490 C330,498 350,501.6 373,504" stroke="#fbf3ec" stroke-width="8" stroke-dasharray="0.8 1.3 1.5 1 0.6 1.7 1.2 0.9" fill="none" filter="url(#b07)" opacity="0.7"/>
</g>
<path d="M314.1,488.3 C314.5,489.2 315.9,491.9 316.6,494.0 C317.3,496.1 317.9,498.6 318.2,500.6 C318.5,502.6 318.8,504.2 318.6,506.0 C318.4,507.8 317.4,510.7 317.2,511.6" fill="none" stroke="#5e1f16" stroke-width="0.8" opacity="0.8"/>
<path d="M370.7,503.4 C370.6,504.5 370.1,507.7 370.0,510.0 C369.9,512.3 369.7,514.5 370.4,517.0 C371.1,519.5 372.5,522.4 374.0,525.0 C375.5,527.6 378.7,531.3 379.6,532.6" fill="none" stroke="#5e1f16" stroke-width="0.8" opacity="0.8"/>
<path id="ic2" d="M287.6,506.3 C288.8,506.2 291.6,509.2 294.0,510.6 C296.4,512.0 297.9,512.9 302.1,514.8 C306.3,516.6 314.3,519.8 319.3,521.7 C324.3,523.6 327.9,524.9 332.0,526.4 C336.1,527.9 342.0,529.1 343.6,530.6 C345.2,532.1 341.9,533.8 341.4,535.4 C340.9,537.0 340.7,538.6 340.7,540.5 C340.7,542.4 341.0,544.4 341.6,546.6 C342.2,548.9 345.5,553.3 344.6,554.0 C343.7,554.7 338.8,551.7 336.0,550.6 C333.2,549.5 332.0,549.4 327.8,547.4 C323.6,545.4 316.4,541.6 310.7,538.8 C305.0,535.9 297.7,532.2 293.6,530.3 C289.5,528.4 288.4,528.2 286.0,527.4 C283.6,526.5 279.9,526.3 279.4,525.2 C278.9,524.1 282.0,522.4 283.0,521.0 C284.0,519.6 284.8,518.2 285.4,516.6 C286.0,515.0 286.4,513.1 286.8,511.4 C287.2,509.7 286.4,506.4 287.6,506.3 Z" fill="#b9583b"/>
<clipPath id="ic2C"><path d="M287.6,506.3 C288.8,506.2 291.6,509.2 294.0,510.6 C296.4,512.0 297.9,512.9 302.1,514.8 C306.3,516.6 314.3,519.8 319.3,521.7 C324.3,523.6 327.9,524.9 332.0,526.4 C336.1,527.9 342.0,529.1 343.6,530.6 C345.2,532.1 341.9,533.8 341.4,535.4 C340.9,537.0 340.7,538.6 340.7,540.5 C340.7,542.4 341.0,544.4 341.6,546.6 C342.2,548.9 345.5,553.3 344.6,554.0 C343.7,554.7 338.8,551.7 336.0,550.6 C333.2,549.5 332.0,549.4 327.8,547.4 C323.6,545.4 316.4,541.6 310.7,538.8 C305.0,535.9 297.7,532.2 293.6,530.3 C289.5,528.4 288.4,528.2 286.0,527.4 C283.6,526.5 279.9,526.3 279.4,525.2 C278.9,524.1 282.0,522.4 283.0,521.0 C284.0,519.6 284.8,518.2 285.4,516.6 C286.0,515.0 286.4,513.1 286.8,511.4 C287.2,509.7 286.4,506.4 287.6,506.3 Z"/></clipPath>
<g clip-path="url(#ic2C)">
<path d="M298.0,514.0 C297.7,516.8 296.3,528.2 296.0,531.0" fill="none" stroke="#8a2d20" stroke-width="2" opacity="0.5" filter="url(#b1)"/>
<path d="M310.0,520.0 C310.0,523.0 310.0,535.0 310.0,538.0" fill="none" stroke="#8a2d20" stroke-width="2" opacity="0.5" filter="url(#b1)"/>
<path d="M323.0,525.0 C323.3,528.3 324.7,541.7 325.0,545.0" fill="none" stroke="#8a2d20" stroke-width="2" opacity="0.5" filter="url(#b1)"/>
<path d="M337.0,530.0 C337.5,533.5 339.5,547.5 340.0,551.0" fill="none" stroke="#8a2d20" stroke-width="1.6" opacity="0.55" filter="url(#b1)"/>
<path d="M292.0,511.0 C291.5,513.8 289.5,525.2 289.0,528.0" fill="none" stroke="#e09a6e" stroke-width="1.4" opacity="0.6" filter="url(#b05)"/>
<path d="M304.0,517.0 C303.8,519.8 303.2,531.2 303.0,534.0" fill="none" stroke="#e09a6e" stroke-width="1.4" opacity="0.6" filter="url(#b05)"/>
<path d="M317.0,522.0 C317.2,525.2 317.8,537.8 318.0,541.0" fill="none" stroke="#e09a6e" stroke-width="1.4" opacity="0.6" filter="url(#b05)"/>
<path d="M330.0,527.0 C330.5,530.5 332.5,544.5 333.0,548.0" fill="none" stroke="#e09a6e" stroke-width="1.2" opacity="0.6" filter="url(#b05)"/>
<path d="M287,507 C300,514 320,523 344,531.6" stroke="#fbf1ea" stroke-width="3.6" fill="none" filter="url(#b1)" opacity="0.95"/><path d="M287,507.6 C300,514.6 320,523.6 344,532.2" stroke="#fbf3ec" stroke-width="9" stroke-dasharray="0.8 1.3 1.5 1 0.6 1.7 1.2 0.9" fill="none" filter="url(#b07)" opacity="0.7"/><path d="M280,526 C295,532.6 318,543 345,555" stroke="#fbf1ea" stroke-width="3" fill="none" filter="url(#b1)" opacity="0.9"/><path d="M280,525.6 C295,532 318,542.4 345,554.4" stroke="#fbf3ec" stroke-width="7" stroke-dasharray="0.8 1.3 1.5 1 0.6 1.7 1.2 0.9" fill="none" filter="url(#b07)" opacity="0.7"/>
</g>
<path d="M287.6,506.3 C287.5,507.1 287.2,509.7 286.8,511.4 C286.4,513.1 286.0,515.0 285.4,516.6 C284.8,518.2 284.0,519.6 283.0,521.0 C282.0,522.4 280.0,524.5 279.4,525.2" fill="none" stroke="#5e1f16" stroke-width="0.8" opacity="0.8"/>
<path d="M343.6,530.6 C343.2,531.4 341.9,533.8 341.4,535.4 C340.9,537.0 340.7,538.6 340.7,540.5 C340.7,542.4 341.0,544.4 341.6,546.6 C342.2,548.9 344.1,552.8 344.6,554.0" fill="none" stroke="#5e1f16" stroke-width="0.8" opacity="0.8"/>
</g>
<g id="annot">
<defs><marker id="ah" viewBox="0 0 10 10" refX="6.4" refY="5" markerWidth="4.2" markerHeight="4.2" orient="auto"><path d="M0,0.3 L10,5 L0,9.7 L2.6,5 Z" fill="#111"/></marker><marker id="ahs" viewBox="0 0 10 10" refX="6.4" refY="5" markerWidth="5.2" markerHeight="5.2" orient="auto"><path d="M0,0.3 L10,5 L0,9.7 L2.6,5 Z" fill="#111"/></marker></defs>
<path d="M348.6,284.4 C343.8,275 340.6,264 341.2,252" stroke="#111" stroke-width="2.9" fill="none" marker-end="url(#ah)"/>
<path d="M347.2,432.4 C344.4,421 341.8,409 340.8,398.4" stroke="#111" stroke-width="2.9" fill="none" marker-end="url(#ah)"/>
<path d="M336.4,516 C337,509 340,503.6 344.2,500.2" stroke="#111" stroke-width="2.2" fill="none" marker-end="url(#ah)"/>
<path d="M445.6,449.6 C462,446 477,436 481.8,416.6" stroke="#111" stroke-width="2.4" fill="none" marker-end="url(#ah)"/>
<path d="M363.7,621.5 L369.7,621.5 L369.7,650 L375.8,649.2 L366.7,669.8 L357.8,649.2 L363.7,650 Z" fill="#111"/>
<path d="M196.5,293.6 L343,293.6 M135,441.75 L346,441.75 M131,532.4 L318,532.4" stroke="#111" stroke-width="1.5" fill="none"/>
</g>
<g id="labels" font-size="16.5" fill="#1f1a17">
<text x="303.2" y="164.2" font-weight="bold" font-size="16.5" fill="#111">Inspiration</text>
<g text-anchor="end">
<text x="189.6" y="281.9">Sternocleidomastoid</text>
<text x="189.6" y="300.4">muscles contract</text>
<text x="130" y="428.5">Pectoralis minor</text>
<text x="130" y="447.3">muscles contract</text>
<text x="126.4" y="499.9">External</text>
<text x="126.4" y="517.9">intercostal</text>
<text x="126.8" y="537">muscles contract</text>
</g>
<g text-anchor="middle">
<text x="371" y="685.6">Diaphragm</text>
<text x="371" y="703.5">contracts</text>
</g>
</g>

<g id="inset">
<path d="M1.7,959 C0,945 0.6,920 3.4,895 C5.4,878 7.6,861 10.2,844 C13,826 16.4,809 20.4,793 C25,775 30.6,758 37.4,742 C43,728 49.6,714 57.9,701.3 C66,689 75,680 85,674 C96,668.6 108,666.8 119,667 C130,666.8 142,668.6 153,674 C163,680 172,689 180.4,701.3 C188.6,714 195.2,728 200.8,742 C207.6,758 213.2,775 217.8,793 C221.8,809 225.2,826 228,844 C231,861 233,878 235,895 C238,920 241,945 242.6,960 C233,950 223,944 211,939.5 C198,932 184,926 170,922.5 C153,918 136,915.6 119,915.7 C102,915.6 85,918 68,922.5 C54,926 40,932 28,938 C17,944 8,951 1.7,959 Z" fill="#dad0dc" stroke="#111" stroke-width="2.8" stroke-linejoin="miter"/>
<path d="M6.5,945.0 C7.2,939.5 8.7,926.0 10.5,912.0 C12.3,898.0 14.7,878.0 17.5,861.0 C20.3,844.0 25.2,821.3 27.5,810.0 C29.8,798.7 29.1,801.5 31.3,793.0 C33.5,784.5 37.5,769.0 41.0,759.0 C44.5,749.0 48.5,740.4 52.0,733.0 C55.5,725.6 58.2,720.8 62.0,714.6 C65.8,708.4 70.6,701.5 75.0,696.0 C79.4,690.5 83.8,685.5 88.5,681.6 C93.2,677.7 97.9,674.8 103.0,672.8 C108.1,670.8 113.6,669.6 119.0,669.6 C124.4,669.6 130.2,670.8 135.4,672.8 C140.6,674.8 145.2,677.7 149.9,681.6 C154.6,685.5 159.0,690.5 163.4,696.0 C167.8,701.5 172.6,708.4 176.4,714.6 C180.2,720.8 182.9,725.6 186.4,733.0 C189.9,740.4 194.0,749.0 197.4,759.0 C200.8,769.0 204.8,784.5 207.1,793.0 C209.3,801.5 208.6,798.7 210.9,810.0 C213.2,821.3 218.1,844.0 220.9,861.0 C223.7,878.0 226.1,898.0 227.9,912.0 C229.7,926.0 231.2,939.5 231.9,945.0" fill="none" stroke="#111" stroke-width="2.4" stroke-dasharray="10 5"/>
<path d="M5.0,952.0 C6.2,948.3 9.1,936.2 12.0,930.0 C14.9,923.8 16.9,921.6 22.3,914.6 C27.7,907.6 37.3,894.4 44.6,887.9 C51.9,881.4 58.6,878.9 66.0,875.5 C73.4,872.1 80.0,869.6 89.0,867.8 C98.0,866.0 110.1,864.5 120.3,864.5 C130.5,864.5 141.2,866.1 150.0,868.0 C158.8,869.9 165.3,872.0 173.0,876.0 C180.7,880.0 188.4,885.9 196.0,892.3 C203.6,898.7 212.9,908.0 218.4,914.6 C223.9,921.2 225.9,925.9 229.0,932.0 C232.1,938.1 235.7,947.8 237.0,951.0" fill="none" stroke="#111" stroke-width="2.4" stroke-dasharray="10 5"/>
<!-- green arrow -->
<path d="M116.7,648.4 L122.6,648.4 L122.6,688.4 L132.2,685.6 L119.8,715 L107.2,685.6 L116.7,688.4 Z" fill="#7db560"/>
<!-- black arrow -->
<path d="M117.3,842.4 L122.1,842.4 L122.1,879 L128,876.2 L119.6,898.4 L111.2,876.2 L117.3,879 Z" fill="#111"/>
<!-- horizontal arrows -->
<path d="M84,795.2 L47,795.2 M157.3,795.2 L194,795.2" stroke="#111" stroke-width="2.1" fill="none"/>
<path d="M42.3,795.2 L53.2,790.5 L50.2,795.2 L53.2,799.9 Z M198.9,795.2 L188,790.5 L191,795.2 L188,799.9 Z" fill="#111"/>
<g font-size="16.5" fill="#231f20" text-anchor="middle">
<text x="122.2" y="791.5">Thoracic</text>
<text x="122.2" y="811.2">cavity</text>
</g>
</g>

<g id="compass">
<ellipse cx="569" cy="693" rx="15" ry="13" fill="#d5d5e0" filter="url(#b3)" opacity="0.35"/>
<g stroke="#111" stroke-width="0.75" stroke-linejoin="miter">
<path d="M566.1,685 L553.3,676.9 L562,689.2 Z M566.1,685 L578.9,676.9 L570.2,689.2 Z M566.1,693.4 L553.8,701.5 L562,689.2 Z M566.1,693.4 L578.4,701 L570.2,689.2 Z" fill="#111"/>
<path d="M566.1,661.8 L562.1,685.4 L566.1,689.2 Z" fill="#e0642a"/>
<path d="M566.1,661.8 L570.1,685.4 L566.1,689.2 Z" fill="#f6dc55"/>
<path d="M566.1,714.2 L562.1,693 L566.1,689.2 Z" fill="#f6dc55"/>
<path d="M566.1,714.2 L570.1,693 L566.1,689.2 Z" fill="#e0642a"/>
<path d="M538.8,689.3 L562.2,685.3 L566.1,689.2 Z" fill="#f6dc55"/>
<path d="M538.8,689.3 L562.2,693.1 L566.1,689.2 Z" fill="#e0642a"/>
<path d="M593.4,689.3 L570,685.3 L566.1,689.2 Z" fill="#e0642a"/>
<path d="M593.4,689.3 L570,693.1 L566.1,689.2 Z" fill="#f6dc55"/>
<circle cx="566.1" cy="689.2" r="3.1" fill="#fdf3a6" stroke-width="0.9"/>
</g>
<g class="serif" font-weight="bold" font-size="12.4" fill="#111" text-anchor="middle">
<text x="566.4" y="659.2">S</text>
<text x="566" y="727.7">I</text>
<text x="533" y="693.4">P</text>
<text x="601" y="693.4">A</text>
</g>
</g>

<!-- FLOWCHART -->
<g id="flow">
<g><linearGradient id="f1" gradientUnits="userSpaceOnUse" x1="0" y1="87" x2="0" y2="99"><stop offset="0" stop-color="#7a0c0e" stop-opacity="0.05"/><stop offset="1" stop-color="#7a0c0e"/></linearGradient><rect x="632.0" y="87" width="8.6" height="75" fill="url(#f1)"/><rect x="632.0" y="99" width="8.6" height="63" fill="#7a0c0e"/><polygon points="632.0,160 632.0,166.5 627.5,162 636.3,183.2 645.0999999999999,162 640.5999999999999,166.5 640.5999999999999,160" fill="#7a0c0e"/><rect x="825.7" y="84" width="8.299999999999955" height="40.8" fill="#7a0c0e"/><rect x="693" y="116.5" width="277.20000000000005" height="8.299999999999997" fill="#7a0c0e"/><rect x="693.0" y="116.5" width="8.8" height="44.5" fill="#7a0c0e"/><polygon points="693.0,159 693.0,165.5 688.6,161 697.4,182.4 706.1999999999999,161 701.8,165.5 701.8,159" fill="#7a0c0e"/><rect x="961.9" y="116.5" width="8.4" height="44.5" fill="#7a0c0e"/><polygon points="961.9,159 961.9,165.5 957.3000000000001,161 966.1,182.4 974.9,161 970.3000000000001,165.5 970.3000000000001,159" fill="#7a0c0e"/><linearGradient id="f3" gradientUnits="userSpaceOnUse" x1="0" y1="83.5" x2="0" y2="93.5"><stop offset="0" stop-color="#7a0c0e" stop-opacity="0.05"/><stop offset="1" stop-color="#7a0c0e"/></linearGradient><rect x="1027.4" y="83.5" width="9.2" height="79.5" fill="url(#f3)"/><rect x="1027.4" y="93.5" width="9.2" height="69.5" fill="#7a0c0e"/><polygon points="1027.4,161 1027.4,167.5 1023.2,163 1032,183.4 1040.8,163 1036.6,167.5 1036.6,161" fill="#7a0c0e"/><rect x="662" y="256.4" width="8.200000000000045" height="54.30000000000001" fill="#7a0c0e"/><rect x="662" y="302.4" width="339.29999999999995" height="8.300000000000011" fill="#7a0c0e"/><rect x="993.2" y="256.6" width="8.099999999999909" height="54.099999999999966" fill="#7a0c0e"/><linearGradient id="f4" gradientUnits="userSpaceOnUse" x1="0" y1="298" x2="0" y2="303"><stop offset="0" stop-color="#7a0c0e" stop-opacity="0.05"/><stop offset="1" stop-color="#7a0c0e"/></linearGradient><rect x="713.5" y="298" width="8.0" height="24.69999999999999" fill="url(#f4)"/><rect x="713.5" y="303" width="8.0" height="19.69999999999999" fill="#7a0c0e"/><polygon points="713.5,320.7 713.5,327.2 708.7,322.7 717.5,343.3 726.3,322.7 721.5,327.2 721.5,320.7" fill="#7a0c0e"/><rect x="711.8" y="450.8" width="8.200000000000045" height="40.599999999999966" fill="#7a0c0e"/><rect x="711.8" y="483" width="385.20000000000005" height="8.399999999999977" fill="#7a0c0e"/><rect x="923" y="450.3" width="8.799999999999955" height="41.099999999999966" fill="#7a0c0e"/><rect x="1088.6" y="450.3" width="8.400000000000091" height="41.099999999999966" fill="#7a0c0e"/><linearGradient id="f5" gradientUnits="userSpaceOnUse" x1="0" y1="477" x2="0" y2="484"><stop offset="0" stop-color="#7a0c0e" stop-opacity="0.05"/><stop offset="1" stop-color="#7a0c0e"/></linearGradient><rect x="780.5" y="477" width="8.4" height="42" fill="url(#f5)"/><rect x="780.5" y="484" width="8.4" height="35" fill="#7a0c0e"/><polygon points="780.5,517 780.5,523.5 775.9000000000001,519 784.7,538.7 793.5,519 788.9000000000001,523.5 788.9000000000001,517" fill="#7a0c0e"/><linearGradient id="f6" gradientUnits="userSpaceOnUse" x1="0" y1="601" x2="0" y2="611"><stop offset="0" stop-color="#7a0c0e" stop-opacity="0.05"/><stop offset="1" stop-color="#7a0c0e"/></linearGradient><rect x="780.3" y="601" width="8.4" height="37" fill="url(#f6)"/><rect x="780.3" y="611" width="8.4" height="27" fill="#7a0c0e"/><polygon points="780.3,636 780.3,642.5 775.7,638 784.5,659.3 793.3,638 788.7,642.5 788.7,636" fill="#7a0c0e"/><linearGradient id="f7" gradientUnits="userSpaceOnUse" x1="0" y1="716" x2="0" y2="726"><stop offset="0" stop-color="#7a0c0e" stop-opacity="0.05"/><stop offset="1" stop-color="#7a0c0e"/></linearGradient><rect x="780.3" y="716" width="8.4" height="39.39999999999998" fill="url(#f7)"/><rect x="780.3" y="726" width="8.4" height="29.399999999999977" fill="#7a0c0e"/><polygon points="780.3,753.4 780.3,759.9 775.7,755.4 784.5,775.5 793.3,755.4 788.7,759.9 788.7,753.4" fill="#7a0c0e"/><linearGradient id="f8" gradientUnits="userSpaceOnUse" x1="0" y1="843" x2="0" y2="853"><stop offset="0" stop-color="#7a0c0e" stop-opacity="0.05"/><stop offset="1" stop-color="#7a0c0e"/></linearGradient><rect x="780.3" y="843" width="8.4" height="39.700000000000045" fill="url(#f8)"/><rect x="780.3" y="853" width="8.4" height="29.700000000000045" fill="#7a0c0e"/><polygon points="780.3,880.7 780.3,887.2 775.7,882.7 784.5,902.5 793.3,882.7 788.7,887.2 788.7,880.7" fill="#7a0c0e"/></g>
<g><rect x="557" y="6" width="159.0" height="81.0" fill="#efe4cf" filter="url(#sh)"/><rect x="765" y="5" width="138.0" height="78.5" fill="#efe4cf" filter="url(#sh)"/><rect x="945.5" y="2" width="183.0" height="81.5" fill="#efe4cf" filter="url(#sh)"/><rect x="552" y="191.4" width="227.4" height="62.6" fill="#efe4cf" filter="url(#sh)"/><rect x="874" y="190.4" width="278.0" height="61.1" fill="#efe4cf" filter="url(#sh)"/><rect x="616.2" y="348" width="201.8" height="99.0" fill="#efe4cf" filter="url(#sh)"/><rect x="851.2" y="351.9" width="146.4" height="94.6" fill="#efe4cf" filter="url(#sh)"/><rect x="1037.2" y="351.9" width="113.3" height="94.6" fill="#efe4cf" filter="url(#sh)"/><rect x="665.7" y="548.5" width="242.4" height="45.8" fill="#efe4cf" filter="url(#sh)"/><rect x="665.7" y="665" width="242.4" height="45.7" fill="#efe4cf" filter="url(#sh)"/><rect x="664" y="780.6" width="244.0" height="60.9" fill="#efe4cf" filter="url(#sh)"/><rect x="664" y="906.6" width="244.0" height="47.4" fill="#efe4cf" filter="url(#sh)"/></g>
<g><rect x="825.7" y="84" width="8.299999999999955" height="34" fill="#7a0c0e"/><rect x="662" y="256.4" width="8.200000000000045" height="47.60000000000002" fill="#7a0c0e"/><rect x="993.2" y="256.6" width="8.099999999999909" height="47.39999999999998" fill="#7a0c0e"/><rect x="711.8" y="450.8" width="8.200000000000045" height="34.19999999999999" fill="#7a0c0e"/><rect x="923" y="450.3" width="8.799999999999955" height="34.69999999999999" fill="#7a0c0e"/><rect x="1088.6" y="450.3" width="8.400000000000091" height="34.69999999999999" fill="#7a0c0e"/></g>
<g class="ft"><text x="635.5" y="39.2">Contraction of</text><text x="635.5" y="57.4">diaphragm</text><text x="832.5" y="31.3">Relaxation</text><text x="832.5" y="50">of expiratory</text><text x="832.5" y="68.7">muscles</text><text x="1038" y="31">Contraction of</text><text x="1038" y="49.6">chest-elevating</text><text x="1038" y="68.2">muscles</text><text x="666" y="218">Increase in vertical</text><text x="666" y="236.5">diameter of thorax</text><text x="1012.5" y="215.6">Increase in anteroposterior and</text><text x="1012.5" y="234.4">transverse dimensions of thorax</text><text x="718.3" y="391.7">Decrease in intrapleural</text><text x="718.3" y="410.5">(intrathoracic) pressure</text><text x="926.5" y="385.3">Cohesion of</text><text x="926.5" y="404">visceral and</text><text x="926.5" y="422.6">parietal pleurae</text><text x="1094.2" y="385.3">Compliance of</text><text x="1094.2" y="404">thorax and</text><text x="1094.2" y="422.6">lungs</text><text x="787.2" y="576.3">Expansion of lungs</text><text x="785.4" y="693.2">Decrease in alveolar pressure</text><text x="786" y="806.8">Establishes pressure gradient</text><text x="786" y="825.6">from atmosphere to alveoli</text><text x="782" y="935.4">Inspiration</text></g>
</g>
</svg>
</body></html>
